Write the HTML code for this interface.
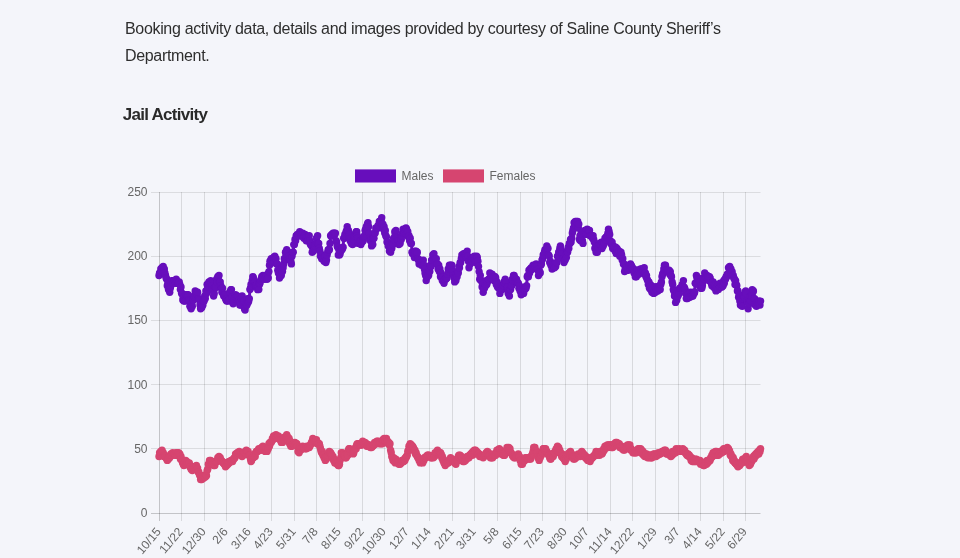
<!DOCTYPE html>
<html lang="en"><head><meta charset="utf-8"><title>Jail Activity</title>
<style>
html,body{margin:0;padding:0}
body{width:960px;height:558px;overflow:hidden;background:#f4f5fa;position:relative;font-family:"Liberation Sans",Arial,sans-serif;color:#212529}
p.lead{position:absolute;left:125px;top:15.2px;width:640px;margin:0;font-size:16px;line-height:27px;color:#2e2e2e;letter-spacing:-0.33px}
h2{position:absolute;left:122.7px;top:103px;margin:0;font-size:17px;line-height:24px;font-weight:700;color:#2a2a2a;letter-spacing:-0.72px}
</style></head><body>
<p class="lead">Booking activity data, details and images provided by courtesy of Saline County Sheriff’s Department.</p>
<h2>Jail Activity</h2>
<svg width="960" height="558" viewBox="0 0 960 558" style="position:absolute;left:0;top:0" font-family="Liberation Sans, Arial, sans-serif" font-size="12" fill="#666666">
<line x1="159.5" x2="159.5" y1="192" y2="521" stroke="rgba(0,0,0,0.2)" stroke-width="1"/>
<text transform="translate(161.5,532.0) rotate(-50)" text-anchor="end">10/15</text>
<line x1="181.5" x2="181.5" y1="192" y2="521" stroke="rgba(0,0,0,0.115)" stroke-width="1"/>
<text transform="translate(183.5,532.0) rotate(-50)" text-anchor="end">11/22</text>
<line x1="204.5" x2="204.5" y1="192" y2="521" stroke="rgba(0,0,0,0.115)" stroke-width="1"/>
<text transform="translate(206.5,532.0) rotate(-50)" text-anchor="end">12/30</text>
<line x1="226.5" x2="226.5" y1="192" y2="521" stroke="rgba(0,0,0,0.115)" stroke-width="1"/>
<text transform="translate(228.5,532.0) rotate(-50)" text-anchor="end">2/6</text>
<line x1="249.5" x2="249.5" y1="192" y2="521" stroke="rgba(0,0,0,0.115)" stroke-width="1"/>
<text transform="translate(251.5,532.0) rotate(-50)" text-anchor="end">3/16</text>
<line x1="271.5" x2="271.5" y1="192" y2="521" stroke="rgba(0,0,0,0.115)" stroke-width="1"/>
<text transform="translate(273.5,532.0) rotate(-50)" text-anchor="end">4/23</text>
<line x1="294.5" x2="294.5" y1="192" y2="521" stroke="rgba(0,0,0,0.115)" stroke-width="1"/>
<text transform="translate(296.5,532.0) rotate(-50)" text-anchor="end">5/31</text>
<line x1="316.5" x2="316.5" y1="192" y2="521" stroke="rgba(0,0,0,0.115)" stroke-width="1"/>
<text transform="translate(318.5,532.0) rotate(-50)" text-anchor="end">7/8</text>
<line x1="339.5" x2="339.5" y1="192" y2="521" stroke="rgba(0,0,0,0.115)" stroke-width="1"/>
<text transform="translate(341.5,532.0) rotate(-50)" text-anchor="end">8/15</text>
<line x1="362.5" x2="362.5" y1="192" y2="521" stroke="rgba(0,0,0,0.115)" stroke-width="1"/>
<text transform="translate(364.5,532.0) rotate(-50)" text-anchor="end">9/22</text>
<line x1="384.5" x2="384.5" y1="192" y2="521" stroke="rgba(0,0,0,0.115)" stroke-width="1"/>
<text transform="translate(386.5,532.0) rotate(-50)" text-anchor="end">10/30</text>
<line x1="407.5" x2="407.5" y1="192" y2="521" stroke="rgba(0,0,0,0.115)" stroke-width="1"/>
<text transform="translate(409.5,532.0) rotate(-50)" text-anchor="end">12/7</text>
<line x1="429.5" x2="429.5" y1="192" y2="521" stroke="rgba(0,0,0,0.115)" stroke-width="1"/>
<text transform="translate(431.5,532.0) rotate(-50)" text-anchor="end">1/14</text>
<line x1="452.5" x2="452.5" y1="192" y2="521" stroke="rgba(0,0,0,0.115)" stroke-width="1"/>
<text transform="translate(454.5,532.0) rotate(-50)" text-anchor="end">2/21</text>
<line x1="474.5" x2="474.5" y1="192" y2="521" stroke="rgba(0,0,0,0.115)" stroke-width="1"/>
<text transform="translate(476.5,532.0) rotate(-50)" text-anchor="end">3/31</text>
<line x1="497.5" x2="497.5" y1="192" y2="521" stroke="rgba(0,0,0,0.115)" stroke-width="1"/>
<text transform="translate(499.5,532.0) rotate(-50)" text-anchor="end">5/8</text>
<line x1="520.5" x2="520.5" y1="192" y2="521" stroke="rgba(0,0,0,0.115)" stroke-width="1"/>
<text transform="translate(522.5,532.0) rotate(-50)" text-anchor="end">6/15</text>
<line x1="542.5" x2="542.5" y1="192" y2="521" stroke="rgba(0,0,0,0.115)" stroke-width="1"/>
<text transform="translate(544.5,532.0) rotate(-50)" text-anchor="end">7/23</text>
<line x1="565.5" x2="565.5" y1="192" y2="521" stroke="rgba(0,0,0,0.115)" stroke-width="1"/>
<text transform="translate(567.5,532.0) rotate(-50)" text-anchor="end">8/30</text>
<line x1="587.5" x2="587.5" y1="192" y2="521" stroke="rgba(0,0,0,0.115)" stroke-width="1"/>
<text transform="translate(589.5,532.0) rotate(-50)" text-anchor="end">10/7</text>
<line x1="610.5" x2="610.5" y1="192" y2="521" stroke="rgba(0,0,0,0.115)" stroke-width="1"/>
<text transform="translate(612.5,532.0) rotate(-50)" text-anchor="end">11/14</text>
<line x1="632.5" x2="632.5" y1="192" y2="521" stroke="rgba(0,0,0,0.115)" stroke-width="1"/>
<text transform="translate(634.5,532.0) rotate(-50)" text-anchor="end">12/22</text>
<line x1="655.5" x2="655.5" y1="192" y2="521" stroke="rgba(0,0,0,0.115)" stroke-width="1"/>
<text transform="translate(657.5,532.0) rotate(-50)" text-anchor="end">1/29</text>
<line x1="678.5" x2="678.5" y1="192" y2="521" stroke="rgba(0,0,0,0.115)" stroke-width="1"/>
<text transform="translate(680.5,532.0) rotate(-50)" text-anchor="end">3/7</text>
<line x1="700.5" x2="700.5" y1="192" y2="521" stroke="rgba(0,0,0,0.115)" stroke-width="1"/>
<text transform="translate(702.5,532.0) rotate(-50)" text-anchor="end">4/14</text>
<line x1="723.5" x2="723.5" y1="192" y2="521" stroke="rgba(0,0,0,0.115)" stroke-width="1"/>
<text transform="translate(725.5,532.0) rotate(-50)" text-anchor="end">5/22</text>
<line x1="745.5" x2="745.5" y1="192" y2="521" stroke="rgba(0,0,0,0.115)" stroke-width="1"/>
<text transform="translate(747.5,532.0) rotate(-50)" text-anchor="end">6/29</text>
<line x1="151" x2="760.5" y1="513.5" y2="513.5" stroke="rgba(0,0,0,0.2)" stroke-width="1"/>
<text x="147.5" y="517.0" text-anchor="end">0</text>
<line x1="151" x2="760.5" y1="448.5" y2="448.5" stroke="rgba(0,0,0,0.1)" stroke-width="1"/>
<text x="147.5" y="452.8" text-anchor="end">50</text>
<line x1="151" x2="760.5" y1="384.5" y2="384.5" stroke="rgba(0,0,0,0.1)" stroke-width="1"/>
<text x="147.5" y="388.6" text-anchor="end">100</text>
<line x1="151" x2="760.5" y1="320.5" y2="320.5" stroke="rgba(0,0,0,0.1)" stroke-width="1"/>
<text x="147.5" y="324.4" text-anchor="end">150</text>
<line x1="151" x2="760.5" y1="256.5" y2="256.5" stroke="rgba(0,0,0,0.1)" stroke-width="1"/>
<text x="147.5" y="260.2" text-anchor="end">200</text>
<line x1="151" x2="760.5" y1="192.5" y2="192.5" stroke="rgba(0,0,0,0.1)" stroke-width="1"/>
<text x="147.5" y="196.0" text-anchor="end">250</text>
<rect x="355" y="169.4" width="41" height="13.1" fill="#670ebc"/>
<text x="401.5" y="180">Males</text>
<rect x="443" y="169.4" width="41" height="13.1" fill="#d64570"/>
<text x="489.5" y="180">Females</text>
<path d="M159.0 275.5L159.6 272.9L160.2 272.9L160.8 269.0L161.4 271.6L162.0 267.8L162.6 270.3L163.2 266.5L163.8 271.6L164.3 269.0L164.9 272.9L165.5 275.5L166.1 278.0L166.7 279.3L167.3 285.7L167.9 283.2L168.5 289.6L169.1 289.6L169.7 292.2L170.3 288.3L170.9 285.7L171.5 281.9L172.1 280.6L172.7 280.6L173.3 283.2L173.8 280.6L174.4 280.6L175.0 280.6L175.6 283.2L176.2 279.3L176.8 281.9L177.4 281.9L178.0 283.2L178.6 283.2L179.2 281.9L179.8 284.4L180.4 289.6L181.0 287.0L181.6 293.4L182.2 293.4L182.8 299.9L183.3 297.3L183.9 301.1L184.5 299.9L185.1 301.1L185.7 296.0L186.3 294.7L186.9 294.7L187.5 296.0L188.1 294.7L188.7 299.9L189.3 301.1L189.9 306.3L190.5 306.3L191.1 308.8L191.7 303.7L192.3 306.3L192.8 298.6L193.4 299.9L194.0 296.0L194.6 297.3L195.2 290.9L195.8 296.0L196.4 292.2L197.0 294.7L197.6 292.2L198.2 298.6L198.8 298.6L199.4 299.9L200.0 305.0L200.6 308.8L201.2 307.6L201.8 307.6L202.4 303.7L202.9 305.0L203.5 301.1L204.1 301.1L204.7 296.0L205.3 298.6L205.9 290.9L206.5 293.4L207.1 284.4L207.7 287.0L208.3 284.4L208.9 281.9L209.5 283.2L210.1 281.9L210.7 280.6L211.3 283.2L211.9 285.7L212.4 289.6L213.0 290.9L213.6 296.0L214.2 293.4L214.8 288.3L215.4 287.0L216.0 287.0L216.6 279.3L217.2 281.9L217.8 276.7L218.4 276.7L219.0 275.5L219.6 281.9L220.2 281.9L220.8 285.7L221.4 288.3L221.9 292.2L222.5 288.3L223.1 293.4L223.7 296.0L224.3 294.7L224.9 294.7L225.5 298.6L226.1 299.9L226.7 301.1L227.3 298.6L227.9 301.1L228.5 299.9L229.1 299.9L229.7 292.2L230.3 292.2L230.9 289.6L231.4 289.6L232.0 297.3L232.6 302.4L233.2 303.7L233.8 302.4L234.4 298.6L235.0 298.6L235.6 294.7L236.2 297.3L236.8 297.3L237.4 296.0L238.0 297.3L238.6 301.1L239.2 299.9L239.8 305.0L240.4 302.4L241.0 305.0L241.5 298.6L242.1 296.0L242.7 299.9L243.3 302.4L243.9 301.1L244.5 308.8L245.1 310.1L245.7 306.3L246.3 303.7L246.9 305.0L247.5 298.6L248.1 302.4L248.7 301.1L249.3 298.6L249.9 289.6L250.5 288.3L251.0 284.4L251.6 285.7L252.2 280.6L252.8 276.7L253.4 278.0L254.0 284.4L254.6 281.9L255.2 285.7L255.8 285.7L256.4 285.7L257.0 284.4L257.6 289.6L258.2 287.0L258.8 289.6L259.4 284.4L260.0 283.2L260.5 280.6L261.1 279.3L261.7 276.7L262.3 278.0L262.9 275.5L263.5 276.7L264.1 276.7L264.7 279.3L265.3 275.5L265.9 276.7L266.5 275.5L267.1 279.3L267.7 274.2L268.3 278.0L268.9 271.6L269.5 265.2L270.0 261.3L270.6 261.3L271.2 258.8L271.8 262.6L272.4 260.1L273.0 262.6L273.6 257.5L274.2 261.3L274.8 256.2L275.4 258.8L276.0 258.8L276.6 263.9L277.2 263.9L277.8 270.3L278.4 272.9L279.0 272.9L279.5 278.0L280.1 272.9L280.7 270.3L281.3 275.5L281.9 267.8L282.5 271.6L283.1 267.8L283.7 263.9L284.3 258.8L284.9 258.8L285.5 252.3L286.1 254.9L286.7 249.8L287.3 256.2L287.9 252.3L288.5 256.2L289.1 256.2L289.6 260.1L290.2 258.8L290.8 261.3L291.4 263.9L292.0 256.2L292.6 252.3L293.2 252.3L293.8 244.6L294.4 244.6L295.0 239.5L295.6 240.8L296.2 235.7L296.8 235.7L297.4 234.4L298.0 234.4L298.6 235.7L299.1 235.7L299.7 231.8L300.3 234.4L300.9 234.4L301.5 235.7L302.1 234.4L302.7 233.1L303.3 236.9L303.9 238.2L304.5 235.7L305.1 234.4L305.7 235.7L306.3 240.8L306.9 236.9L307.5 240.8L308.1 236.9L308.6 239.5L309.2 235.7L309.8 240.8L310.4 244.6L311.0 243.4L311.6 245.9L312.2 252.3L312.8 251.1L313.4 251.1L314.0 245.9L314.6 248.5L315.2 245.9L315.8 243.4L316.4 238.2L317.0 242.1L317.6 235.7L318.1 243.4L318.7 243.4L319.3 248.5L319.9 251.1L320.5 256.2L321.1 254.9L321.7 258.8L322.3 254.9L322.9 257.5L323.5 258.8L324.1 261.3L324.7 256.2L325.3 256.2L325.9 262.6L326.5 260.1L327.1 254.9L327.7 252.3L328.2 249.8L328.8 249.8L329.4 249.8L330.0 243.4L330.6 235.7L331.2 235.7L331.8 234.4L332.4 235.7L333.0 233.1L333.6 234.4L334.2 233.1L334.8 234.4L335.4 233.1L336.0 240.8L336.6 242.1L337.2 245.9L337.7 247.2L338.3 254.9L338.9 249.8L339.5 254.9L340.1 253.6L340.7 251.1L341.3 248.5L341.9 249.8L342.5 248.5L343.1 247.2L343.7 238.2L344.3 238.2L344.9 234.4L345.5 235.7L346.1 231.8L346.7 230.5L347.2 226.7L347.8 230.5L348.4 230.5L349.0 236.9L349.6 234.4L350.2 240.8L350.8 238.2L351.4 243.4L352.0 242.1L352.6 244.6L353.2 243.4L353.8 239.5L354.4 236.9L355.0 235.7L355.6 233.1L356.2 231.8L356.7 231.8L357.3 235.7L357.9 238.2L358.5 243.4L359.1 243.4L359.7 242.1L360.3 240.8L360.9 244.6L361.5 240.8L362.1 242.1L362.7 239.5L363.3 240.8L363.9 236.9L364.5 235.7L365.1 230.5L365.7 229.2L366.3 226.7L366.8 228.0L367.4 224.1L368.0 222.8L368.6 226.7L369.2 233.1L369.8 238.2L370.4 240.8L371.0 239.5L371.6 245.9L372.2 242.1L372.8 244.6L373.4 238.2L374.0 238.2L374.6 233.1L375.2 233.1L375.8 228.0L376.3 229.2L376.9 228.0L377.5 228.0L378.1 225.4L378.7 225.4L379.3 221.5L379.9 221.5L380.5 222.8L381.1 220.2L381.7 217.7L382.3 224.1L382.9 224.1L383.5 229.2L384.1 226.7L384.7 233.1L385.3 230.5L385.8 235.7L386.4 236.9L387.0 242.1L387.6 242.1L388.2 245.9L388.8 244.6L389.4 251.1L390.0 251.1L390.6 252.3L391.2 245.9L391.8 248.5L392.4 243.4L393.0 244.6L393.6 238.2L394.2 239.5L394.8 231.8L395.3 234.4L395.9 230.5L396.5 236.9L397.1 238.2L397.7 239.5L398.3 240.8L398.9 244.6L399.5 240.8L400.1 243.4L400.7 236.9L401.3 239.5L401.9 235.7L402.5 233.1L403.1 229.2L403.7 233.1L404.3 231.8L404.9 229.2L405.4 230.5L406.0 228.0L406.6 229.2L407.2 234.4L407.8 231.8L408.4 236.9L409.0 235.7L409.6 240.8L410.2 238.2L410.8 243.4L411.4 243.4L412.0 252.3L412.6 253.6L413.2 253.6L413.8 252.3L414.4 257.5L414.9 251.1L415.5 253.6L416.1 251.1L416.7 253.6L417.3 252.3L417.9 258.8L418.5 260.1L419.1 263.9L419.7 262.6L420.3 260.1L420.9 262.6L421.5 265.2L422.1 261.3L422.7 262.6L423.3 260.1L423.9 265.2L424.4 269.0L425.0 272.9L425.6 275.5L426.2 280.6L426.8 276.7L427.4 276.7L428.0 272.9L428.6 275.5L429.2 270.3L429.8 271.6L430.4 265.2L431.0 266.5L431.6 260.1L432.2 260.1L432.8 254.9L433.4 254.9L433.9 253.6L434.5 260.1L435.1 258.8L435.7 262.6L436.3 258.8L436.9 263.9L437.5 263.9L438.1 269.0L438.7 265.2L439.3 271.6L439.9 269.0L440.5 276.7L441.1 272.9L441.7 276.7L442.3 280.6L442.9 279.3L443.5 276.7L444.0 283.2L444.6 279.3L445.2 279.3L445.8 279.3L446.4 278.0L447.0 278.0L447.6 274.2L448.2 269.0L448.8 271.6L449.4 265.2L450.0 269.0L450.6 265.2L451.2 266.5L451.8 265.2L452.4 270.3L453.0 271.6L453.5 275.5L454.1 278.0L454.7 281.9L455.3 278.0L455.9 280.6L456.5 274.2L457.1 276.7L457.7 271.6L458.3 272.9L458.9 266.5L459.5 267.8L460.1 262.6L460.7 262.6L461.3 258.8L461.9 254.9L462.5 256.2L463.0 257.5L463.6 253.6L464.2 257.5L464.8 253.6L465.4 256.2L466.0 254.9L466.6 257.5L467.2 251.1L467.8 256.2L468.4 261.3L469.0 267.8L469.6 261.3L470.2 263.9L470.8 257.5L471.4 260.1L472.0 258.8L472.5 261.3L473.1 257.5L473.7 258.8L474.3 256.2L474.9 260.1L475.5 262.6L476.1 260.1L476.7 256.2L477.3 257.5L477.9 261.3L478.5 266.5L479.1 271.6L479.7 279.3L480.3 275.5L480.9 280.6L481.5 280.6L482.1 287.0L482.6 284.4L483.2 292.2L483.8 288.3L484.4 288.3L485.0 284.4L485.6 285.7L486.2 280.6L486.8 284.4L487.4 281.9L488.0 280.6L488.6 279.3L489.2 279.3L489.8 272.9L490.4 278.0L491.0 275.5L491.6 278.0L492.1 274.2L492.7 279.3L493.3 276.7L493.9 280.6L494.5 276.7L495.1 276.7L495.7 278.0L496.3 284.4L496.9 281.9L497.5 287.0L498.1 284.4L498.7 288.3L499.3 287.0L499.9 293.4L500.5 288.3L501.1 287.0L501.6 288.3L502.2 289.6L502.8 288.3L503.4 285.7L504.0 281.9L504.6 283.2L505.2 279.3L505.8 283.2L506.4 281.9L507.0 287.0L507.6 287.0L508.2 293.4L508.8 290.9L509.4 296.0L510.0 289.6L510.6 289.6L511.1 285.7L511.7 285.7L512.3 279.3L512.9 280.6L513.5 275.5L514.1 275.5L514.7 278.0L515.3 280.6L515.9 280.6L516.5 279.3L517.1 281.9L517.7 283.2L518.3 283.2L518.9 288.3L519.5 285.7L520.1 290.9L520.6 289.6L521.2 294.7L521.8 293.4L522.4 292.2L523.0 290.9L523.6 293.4L524.2 289.6L524.8 289.6L525.4 287.0L526.0 288.3L526.6 285.7L527.2 276.7L527.8 275.5L528.4 276.7L529.0 270.3L529.6 272.9L530.2 269.0L530.7 270.3L531.3 267.8L531.9 269.0L532.5 269.0L533.1 265.2L533.7 266.5L534.3 267.8L534.9 266.5L535.5 266.5L536.1 263.9L536.7 266.5L537.3 269.0L537.9 270.3L538.5 275.5L539.1 271.6L539.7 271.6L540.2 272.9L540.8 265.2L541.4 263.9L542.0 260.1L542.6 258.8L543.2 254.9L543.8 254.9L544.4 252.3L545.0 249.8L545.6 251.1L546.2 249.8L546.8 245.9L547.4 248.5L548.0 248.5L548.6 254.9L549.2 256.2L549.7 262.6L550.3 261.3L550.9 265.2L551.5 263.9L552.1 269.0L552.7 263.9L553.3 265.2L553.9 266.5L554.5 267.8L555.1 263.9L555.7 266.5L556.3 262.6L556.9 262.6L557.5 256.2L558.1 256.2L558.7 252.3L559.2 252.3L559.8 248.5L560.4 245.9L561.0 249.8L561.6 254.9L562.2 253.6L562.8 258.8L563.4 258.8L564.0 262.6L564.6 260.1L565.2 260.1L565.8 254.9L566.4 257.5L567.0 251.1L567.6 252.3L568.2 247.2L568.8 248.5L569.3 243.4L569.9 243.4L570.5 239.5L571.1 242.1L571.7 238.2L572.3 233.1L572.9 230.5L573.5 228.0L574.1 222.8L574.7 224.1L575.3 221.5L575.9 225.4L576.5 221.5L577.1 222.8L577.7 221.5L578.3 228.0L578.8 224.1L579.4 239.5L580.0 235.7L580.6 240.8L581.2 239.5L581.8 240.8L582.4 240.8L583.0 243.4L583.6 231.8L584.2 233.1L584.8 230.5L585.4 233.1L586.0 231.8L586.6 234.4L587.2 229.2L587.8 233.1L588.3 230.5L588.9 230.5L589.5 230.5L590.1 235.7L590.7 235.7L591.3 235.7L591.9 235.7L592.5 238.2L593.1 235.7L593.7 239.5L594.3 242.1L594.9 248.5L595.5 247.2L596.1 252.3L596.7 248.5L597.3 252.3L597.8 245.9L598.4 247.2L599.0 244.6L599.6 243.4L600.2 244.6L600.8 244.6L601.4 242.1L602.0 248.5L602.6 243.4L603.2 245.9L603.8 242.1L604.4 243.4L605.0 238.2L605.6 239.5L606.2 236.9L606.8 236.9L607.4 235.7L607.9 233.1L608.5 229.2L609.1 231.8L609.7 234.4L610.3 240.8L610.9 242.1L611.5 244.6L612.1 242.1L612.7 248.5L613.3 245.9L613.9 247.2L614.5 247.2L615.1 251.1L615.7 247.2L616.3 253.6L616.9 248.5L617.4 249.8L618.0 252.3L618.6 253.6L619.2 251.1L619.8 256.2L620.4 254.9L621.0 252.3L621.6 254.9L622.2 260.1L622.8 258.8L623.4 263.9L624.0 263.9L624.6 271.6L625.2 269.0L625.8 267.8L626.4 269.0L626.9 270.3L627.5 266.5L628.1 270.3L628.7 266.5L629.3 265.2L629.9 265.2L630.5 263.9L631.1 265.2L631.7 266.5L632.3 267.8L632.9 270.3L633.5 269.0L634.1 272.9L634.7 270.3L635.3 276.7L635.9 271.6L636.4 276.7L637.0 270.3L637.6 274.2L638.2 270.3L638.8 274.2L639.4 270.3L640.0 272.9L640.6 269.0L641.2 271.6L641.8 269.0L642.4 271.6L643.0 270.3L643.6 270.3L644.2 267.8L644.8 274.2L645.4 272.9L646.0 276.7L646.5 275.5L647.1 279.3L647.7 280.6L648.3 284.4L648.9 281.9L649.5 288.3L650.1 284.4L650.7 289.6L651.3 285.7L651.9 292.2L652.5 289.6L653.1 292.2L653.7 293.4L654.3 290.9L654.9 287.0L655.5 292.2L656.0 287.0L656.6 290.9L657.2 287.0L657.8 290.9L658.4 287.0L659.0 288.3L659.6 285.7L660.2 289.6L660.8 284.4L661.4 281.9L662.0 276.7L662.6 274.2L663.2 272.9L663.8 269.0L664.4 265.2L665.0 270.3L665.5 265.2L666.1 270.3L666.7 270.3L667.3 271.6L667.9 270.3L668.5 271.6L669.1 270.3L669.7 274.2L670.3 271.6L670.9 275.5L671.5 276.7L672.1 281.9L672.7 284.4L673.3 289.6L673.9 290.9L674.5 296.0L675.0 296.0L675.6 302.4L676.2 297.3L676.8 299.9L677.4 293.4L678.0 296.0L678.6 289.6L679.2 293.4L679.8 288.3L680.4 288.3L681.0 288.3L681.6 287.0L682.2 284.4L682.8 287.0L683.4 280.6L684.0 287.0L684.6 288.3L685.1 289.6L685.7 293.4L686.3 298.6L686.9 293.4L687.5 298.6L688.1 294.7L688.7 297.3L689.3 293.4L689.9 297.3L690.5 292.2L691.1 296.0L691.7 293.4L692.3 296.0L692.9 296.0L693.5 292.2L694.1 293.4L694.6 292.2L695.2 283.2L695.8 283.2L696.4 275.5L697.0 278.0L697.6 278.0L698.2 278.0L698.8 279.3L699.4 285.7L700.0 281.9L700.6 288.3L701.2 285.7L701.8 288.3L702.4 285.7L703.0 281.9L703.6 278.0L704.1 279.3L704.7 272.9L705.3 276.7L705.9 275.5L706.5 276.7L707.1 275.5L707.7 278.0L708.3 276.7L708.9 280.6L709.5 276.7L710.1 278.0L710.7 280.6L711.3 283.2L711.9 285.7L712.5 283.2L713.1 281.9L713.6 287.0L714.2 284.4L714.8 288.3L715.4 285.7L716.0 290.9L716.6 287.0L717.2 288.3L717.8 284.4L718.4 289.6L719.0 284.4L719.6 287.0L720.2 283.2L720.8 287.0L721.4 284.4L722.0 287.0L722.6 284.4L723.1 285.7L723.7 280.6L724.3 283.2L724.9 279.3L725.5 279.3L726.1 276.7L726.7 276.7L727.3 274.2L727.9 274.2L728.5 267.8L729.1 272.9L729.7 266.5L730.3 270.3L730.9 269.0L731.5 274.2L732.1 271.6L732.7 275.5L733.2 275.5L733.8 278.0L734.4 279.3L735.0 284.4L735.6 280.6L736.2 284.4L736.8 285.7L737.4 290.9L738.0 290.9L738.6 297.3L739.2 294.7L739.8 301.1L740.4 305.0L741.0 305.0L741.6 303.7L742.2 306.3L742.7 298.6L743.3 298.6L743.9 296.0L744.5 297.3L745.1 292.2L745.7 290.9L746.3 293.4L746.9 301.1L747.5 302.4L748.1 308.8L748.7 301.1L749.3 303.7L749.9 297.3L750.5 301.1L751.1 296.0L751.7 296.0L752.2 289.6L752.8 292.2L753.4 290.9L754.0 298.6L754.6 298.6L755.2 305.0L755.8 303.7L756.4 306.3L757.0 302.4L757.6 302.4L758.2 301.1L758.8 302.4L759.4 301.1L760.0 305.0L760.6 301.1" fill="none" stroke="#670ebc" stroke-width="3" stroke-linejoin="round" stroke-linecap="round"/>
<g fill="#670ebc"><circle cx="159.0" cy="275.5" r="3.7"/><circle cx="159.6" cy="272.9" r="3.7"/><circle cx="160.2" cy="272.9" r="3.7"/><circle cx="160.8" cy="269.0" r="3.7"/><circle cx="161.4" cy="271.6" r="3.7"/><circle cx="162.0" cy="267.8" r="3.7"/><circle cx="162.6" cy="270.3" r="3.7"/><circle cx="163.2" cy="266.5" r="3.7"/><circle cx="163.8" cy="271.6" r="3.7"/><circle cx="164.3" cy="269.0" r="3.7"/><circle cx="164.9" cy="272.9" r="3.7"/><circle cx="165.5" cy="275.5" r="3.7"/><circle cx="166.1" cy="278.0" r="3.7"/><circle cx="166.7" cy="279.3" r="3.7"/><circle cx="167.3" cy="285.7" r="3.7"/><circle cx="167.9" cy="283.2" r="3.7"/><circle cx="168.5" cy="289.6" r="3.7"/><circle cx="169.1" cy="289.6" r="3.7"/><circle cx="169.7" cy="292.2" r="3.7"/><circle cx="170.3" cy="288.3" r="3.7"/><circle cx="170.9" cy="285.7" r="3.7"/><circle cx="171.5" cy="281.9" r="3.7"/><circle cx="172.1" cy="280.6" r="3.7"/><circle cx="172.7" cy="280.6" r="3.7"/><circle cx="173.3" cy="283.2" r="3.7"/><circle cx="173.8" cy="280.6" r="3.7"/><circle cx="174.4" cy="280.6" r="3.7"/><circle cx="175.0" cy="280.6" r="3.7"/><circle cx="175.6" cy="283.2" r="3.7"/><circle cx="176.2" cy="279.3" r="3.7"/><circle cx="176.8" cy="281.9" r="3.7"/><circle cx="177.4" cy="281.9" r="3.7"/><circle cx="178.0" cy="283.2" r="3.7"/><circle cx="178.6" cy="283.2" r="3.7"/><circle cx="179.2" cy="281.9" r="3.7"/><circle cx="179.8" cy="284.4" r="3.7"/><circle cx="180.4" cy="289.6" r="3.7"/><circle cx="181.0" cy="287.0" r="3.7"/><circle cx="181.6" cy="293.4" r="3.7"/><circle cx="182.2" cy="293.4" r="3.7"/><circle cx="182.8" cy="299.9" r="3.7"/><circle cx="183.3" cy="297.3" r="3.7"/><circle cx="183.9" cy="301.1" r="3.7"/><circle cx="184.5" cy="299.9" r="3.7"/><circle cx="185.1" cy="301.1" r="3.7"/><circle cx="185.7" cy="296.0" r="3.7"/><circle cx="186.3" cy="294.7" r="3.7"/><circle cx="186.9" cy="294.7" r="3.7"/><circle cx="187.5" cy="296.0" r="3.7"/><circle cx="188.1" cy="294.7" r="3.7"/><circle cx="188.7" cy="299.9" r="3.7"/><circle cx="189.3" cy="301.1" r="3.7"/><circle cx="189.9" cy="306.3" r="3.7"/><circle cx="190.5" cy="306.3" r="3.7"/><circle cx="191.1" cy="308.8" r="3.7"/><circle cx="191.7" cy="303.7" r="3.7"/><circle cx="192.3" cy="306.3" r="3.7"/><circle cx="192.8" cy="298.6" r="3.7"/><circle cx="193.4" cy="299.9" r="3.7"/><circle cx="194.0" cy="296.0" r="3.7"/><circle cx="194.6" cy="297.3" r="3.7"/><circle cx="195.2" cy="290.9" r="3.7"/><circle cx="195.8" cy="296.0" r="3.7"/><circle cx="196.4" cy="292.2" r="3.7"/><circle cx="197.0" cy="294.7" r="3.7"/><circle cx="197.6" cy="292.2" r="3.7"/><circle cx="198.2" cy="298.6" r="3.7"/><circle cx="198.8" cy="298.6" r="3.7"/><circle cx="199.4" cy="299.9" r="3.7"/><circle cx="200.0" cy="305.0" r="3.7"/><circle cx="200.6" cy="308.8" r="3.7"/><circle cx="201.2" cy="307.6" r="3.7"/><circle cx="201.8" cy="307.6" r="3.7"/><circle cx="202.4" cy="303.7" r="3.7"/><circle cx="202.9" cy="305.0" r="3.7"/><circle cx="203.5" cy="301.1" r="3.7"/><circle cx="204.1" cy="301.1" r="3.7"/><circle cx="204.7" cy="296.0" r="3.7"/><circle cx="205.3" cy="298.6" r="3.7"/><circle cx="205.9" cy="290.9" r="3.7"/><circle cx="206.5" cy="293.4" r="3.7"/><circle cx="207.1" cy="284.4" r="3.7"/><circle cx="207.7" cy="287.0" r="3.7"/><circle cx="208.3" cy="284.4" r="3.7"/><circle cx="208.9" cy="281.9" r="3.7"/><circle cx="209.5" cy="283.2" r="3.7"/><circle cx="210.1" cy="281.9" r="3.7"/><circle cx="210.7" cy="280.6" r="3.7"/><circle cx="211.3" cy="283.2" r="3.7"/><circle cx="211.9" cy="285.7" r="3.7"/><circle cx="212.4" cy="289.6" r="3.7"/><circle cx="213.0" cy="290.9" r="3.7"/><circle cx="213.6" cy="296.0" r="3.7"/><circle cx="214.2" cy="293.4" r="3.7"/><circle cx="214.8" cy="288.3" r="3.7"/><circle cx="215.4" cy="287.0" r="3.7"/><circle cx="216.0" cy="287.0" r="3.7"/><circle cx="216.6" cy="279.3" r="3.7"/><circle cx="217.2" cy="281.9" r="3.7"/><circle cx="217.8" cy="276.7" r="3.7"/><circle cx="218.4" cy="276.7" r="3.7"/><circle cx="219.0" cy="275.5" r="3.7"/><circle cx="219.6" cy="281.9" r="3.7"/><circle cx="220.2" cy="281.9" r="3.7"/><circle cx="220.8" cy="285.7" r="3.7"/><circle cx="221.4" cy="288.3" r="3.7"/><circle cx="221.9" cy="292.2" r="3.7"/><circle cx="222.5" cy="288.3" r="3.7"/><circle cx="223.1" cy="293.4" r="3.7"/><circle cx="223.7" cy="296.0" r="3.7"/><circle cx="224.3" cy="294.7" r="3.7"/><circle cx="224.9" cy="294.7" r="3.7"/><circle cx="225.5" cy="298.6" r="3.7"/><circle cx="226.1" cy="299.9" r="3.7"/><circle cx="226.7" cy="301.1" r="3.7"/><circle cx="227.3" cy="298.6" r="3.7"/><circle cx="227.9" cy="301.1" r="3.7"/><circle cx="228.5" cy="299.9" r="3.7"/><circle cx="229.1" cy="299.9" r="3.7"/><circle cx="229.7" cy="292.2" r="3.7"/><circle cx="230.3" cy="292.2" r="3.7"/><circle cx="230.9" cy="289.6" r="3.7"/><circle cx="231.4" cy="289.6" r="3.7"/><circle cx="232.0" cy="297.3" r="3.7"/><circle cx="232.6" cy="302.4" r="3.7"/><circle cx="233.2" cy="303.7" r="3.7"/><circle cx="233.8" cy="302.4" r="3.7"/><circle cx="234.4" cy="298.6" r="3.7"/><circle cx="235.0" cy="298.6" r="3.7"/><circle cx="235.6" cy="294.7" r="3.7"/><circle cx="236.2" cy="297.3" r="3.7"/><circle cx="236.8" cy="297.3" r="3.7"/><circle cx="237.4" cy="296.0" r="3.7"/><circle cx="238.0" cy="297.3" r="3.7"/><circle cx="238.6" cy="301.1" r="3.7"/><circle cx="239.2" cy="299.9" r="3.7"/><circle cx="239.8" cy="305.0" r="3.7"/><circle cx="240.4" cy="302.4" r="3.7"/><circle cx="241.0" cy="305.0" r="3.7"/><circle cx="241.5" cy="298.6" r="3.7"/><circle cx="242.1" cy="296.0" r="3.7"/><circle cx="242.7" cy="299.9" r="3.7"/><circle cx="243.3" cy="302.4" r="3.7"/><circle cx="243.9" cy="301.1" r="3.7"/><circle cx="244.5" cy="308.8" r="3.7"/><circle cx="245.1" cy="310.1" r="3.7"/><circle cx="245.7" cy="306.3" r="3.7"/><circle cx="246.3" cy="303.7" r="3.7"/><circle cx="246.9" cy="305.0" r="3.7"/><circle cx="247.5" cy="298.6" r="3.7"/><circle cx="248.1" cy="302.4" r="3.7"/><circle cx="248.7" cy="301.1" r="3.7"/><circle cx="249.3" cy="298.6" r="3.7"/><circle cx="249.9" cy="289.6" r="3.7"/><circle cx="250.5" cy="288.3" r="3.7"/><circle cx="251.0" cy="284.4" r="3.7"/><circle cx="251.6" cy="285.7" r="3.7"/><circle cx="252.2" cy="280.6" r="3.7"/><circle cx="252.8" cy="276.7" r="3.7"/><circle cx="253.4" cy="278.0" r="3.7"/><circle cx="254.0" cy="284.4" r="3.7"/><circle cx="254.6" cy="281.9" r="3.7"/><circle cx="255.2" cy="285.7" r="3.7"/><circle cx="255.8" cy="285.7" r="3.7"/><circle cx="256.4" cy="285.7" r="3.7"/><circle cx="257.0" cy="284.4" r="3.7"/><circle cx="257.6" cy="289.6" r="3.7"/><circle cx="258.2" cy="287.0" r="3.7"/><circle cx="258.8" cy="289.6" r="3.7"/><circle cx="259.4" cy="284.4" r="3.7"/><circle cx="260.0" cy="283.2" r="3.7"/><circle cx="260.5" cy="280.6" r="3.7"/><circle cx="261.1" cy="279.3" r="3.7"/><circle cx="261.7" cy="276.7" r="3.7"/><circle cx="262.3" cy="278.0" r="3.7"/><circle cx="262.9" cy="275.5" r="3.7"/><circle cx="263.5" cy="276.7" r="3.7"/><circle cx="264.1" cy="276.7" r="3.7"/><circle cx="264.7" cy="279.3" r="3.7"/><circle cx="265.3" cy="275.5" r="3.7"/><circle cx="265.9" cy="276.7" r="3.7"/><circle cx="266.5" cy="275.5" r="3.7"/><circle cx="267.1" cy="279.3" r="3.7"/><circle cx="267.7" cy="274.2" r="3.7"/><circle cx="268.3" cy="278.0" r="3.7"/><circle cx="268.9" cy="271.6" r="3.7"/><circle cx="269.5" cy="265.2" r="3.7"/><circle cx="270.0" cy="261.3" r="3.7"/><circle cx="270.6" cy="261.3" r="3.7"/><circle cx="271.2" cy="258.8" r="3.7"/><circle cx="271.8" cy="262.6" r="3.7"/><circle cx="272.4" cy="260.1" r="3.7"/><circle cx="273.0" cy="262.6" r="3.7"/><circle cx="273.6" cy="257.5" r="3.7"/><circle cx="274.2" cy="261.3" r="3.7"/><circle cx="274.8" cy="256.2" r="3.7"/><circle cx="275.4" cy="258.8" r="3.7"/><circle cx="276.0" cy="258.8" r="3.7"/><circle cx="276.6" cy="263.9" r="3.7"/><circle cx="277.2" cy="263.9" r="3.7"/><circle cx="277.8" cy="270.3" r="3.7"/><circle cx="278.4" cy="272.9" r="3.7"/><circle cx="279.0" cy="272.9" r="3.7"/><circle cx="279.5" cy="278.0" r="3.7"/><circle cx="280.1" cy="272.9" r="3.7"/><circle cx="280.7" cy="270.3" r="3.7"/><circle cx="281.3" cy="275.5" r="3.7"/><circle cx="281.9" cy="267.8" r="3.7"/><circle cx="282.5" cy="271.6" r="3.7"/><circle cx="283.1" cy="267.8" r="3.7"/><circle cx="283.7" cy="263.9" r="3.7"/><circle cx="284.3" cy="258.8" r="3.7"/><circle cx="284.9" cy="258.8" r="3.7"/><circle cx="285.5" cy="252.3" r="3.7"/><circle cx="286.1" cy="254.9" r="3.7"/><circle cx="286.7" cy="249.8" r="3.7"/><circle cx="287.3" cy="256.2" r="3.7"/><circle cx="287.9" cy="252.3" r="3.7"/><circle cx="288.5" cy="256.2" r="3.7"/><circle cx="289.1" cy="256.2" r="3.7"/><circle cx="289.6" cy="260.1" r="3.7"/><circle cx="290.2" cy="258.8" r="3.7"/><circle cx="290.8" cy="261.3" r="3.7"/><circle cx="291.4" cy="263.9" r="3.7"/><circle cx="292.0" cy="256.2" r="3.7"/><circle cx="292.6" cy="252.3" r="3.7"/><circle cx="293.2" cy="252.3" r="3.7"/><circle cx="293.8" cy="244.6" r="3.7"/><circle cx="294.4" cy="244.6" r="3.7"/><circle cx="295.0" cy="239.5" r="3.7"/><circle cx="295.6" cy="240.8" r="3.7"/><circle cx="296.2" cy="235.7" r="3.7"/><circle cx="296.8" cy="235.7" r="3.7"/><circle cx="297.4" cy="234.4" r="3.7"/><circle cx="298.0" cy="234.4" r="3.7"/><circle cx="298.6" cy="235.7" r="3.7"/><circle cx="299.1" cy="235.7" r="3.7"/><circle cx="299.7" cy="231.8" r="3.7"/><circle cx="300.3" cy="234.4" r="3.7"/><circle cx="300.9" cy="234.4" r="3.7"/><circle cx="301.5" cy="235.7" r="3.7"/><circle cx="302.1" cy="234.4" r="3.7"/><circle cx="302.7" cy="233.1" r="3.7"/><circle cx="303.3" cy="236.9" r="3.7"/><circle cx="303.9" cy="238.2" r="3.7"/><circle cx="304.5" cy="235.7" r="3.7"/><circle cx="305.1" cy="234.4" r="3.7"/><circle cx="305.7" cy="235.7" r="3.7"/><circle cx="306.3" cy="240.8" r="3.7"/><circle cx="306.9" cy="236.9" r="3.7"/><circle cx="307.5" cy="240.8" r="3.7"/><circle cx="308.1" cy="236.9" r="3.7"/><circle cx="308.6" cy="239.5" r="3.7"/><circle cx="309.2" cy="235.7" r="3.7"/><circle cx="309.8" cy="240.8" r="3.7"/><circle cx="310.4" cy="244.6" r="3.7"/><circle cx="311.0" cy="243.4" r="3.7"/><circle cx="311.6" cy="245.9" r="3.7"/><circle cx="312.2" cy="252.3" r="3.7"/><circle cx="312.8" cy="251.1" r="3.7"/><circle cx="313.4" cy="251.1" r="3.7"/><circle cx="314.0" cy="245.9" r="3.7"/><circle cx="314.6" cy="248.5" r="3.7"/><circle cx="315.2" cy="245.9" r="3.7"/><circle cx="315.8" cy="243.4" r="3.7"/><circle cx="316.4" cy="238.2" r="3.7"/><circle cx="317.0" cy="242.1" r="3.7"/><circle cx="317.6" cy="235.7" r="3.7"/><circle cx="318.1" cy="243.4" r="3.7"/><circle cx="318.7" cy="243.4" r="3.7"/><circle cx="319.3" cy="248.5" r="3.7"/><circle cx="319.9" cy="251.1" r="3.7"/><circle cx="320.5" cy="256.2" r="3.7"/><circle cx="321.1" cy="254.9" r="3.7"/><circle cx="321.7" cy="258.8" r="3.7"/><circle cx="322.3" cy="254.9" r="3.7"/><circle cx="322.9" cy="257.5" r="3.7"/><circle cx="323.5" cy="258.8" r="3.7"/><circle cx="324.1" cy="261.3" r="3.7"/><circle cx="324.7" cy="256.2" r="3.7"/><circle cx="325.3" cy="256.2" r="3.7"/><circle cx="325.9" cy="262.6" r="3.7"/><circle cx="326.5" cy="260.1" r="3.7"/><circle cx="327.1" cy="254.9" r="3.7"/><circle cx="327.7" cy="252.3" r="3.7"/><circle cx="328.2" cy="249.8" r="3.7"/><circle cx="328.8" cy="249.8" r="3.7"/><circle cx="329.4" cy="249.8" r="3.7"/><circle cx="330.0" cy="243.4" r="3.7"/><circle cx="330.6" cy="235.7" r="3.7"/><circle cx="331.2" cy="235.7" r="3.7"/><circle cx="331.8" cy="234.4" r="3.7"/><circle cx="332.4" cy="235.7" r="3.7"/><circle cx="333.0" cy="233.1" r="3.7"/><circle cx="333.6" cy="234.4" r="3.7"/><circle cx="334.2" cy="233.1" r="3.7"/><circle cx="334.8" cy="234.4" r="3.7"/><circle cx="335.4" cy="233.1" r="3.7"/><circle cx="336.0" cy="240.8" r="3.7"/><circle cx="336.6" cy="242.1" r="3.7"/><circle cx="337.2" cy="245.9" r="3.7"/><circle cx="337.7" cy="247.2" r="3.7"/><circle cx="338.3" cy="254.9" r="3.7"/><circle cx="338.9" cy="249.8" r="3.7"/><circle cx="339.5" cy="254.9" r="3.7"/><circle cx="340.1" cy="253.6" r="3.7"/><circle cx="340.7" cy="251.1" r="3.7"/><circle cx="341.3" cy="248.5" r="3.7"/><circle cx="341.9" cy="249.8" r="3.7"/><circle cx="342.5" cy="248.5" r="3.7"/><circle cx="343.1" cy="247.2" r="3.7"/><circle cx="343.7" cy="238.2" r="3.7"/><circle cx="344.3" cy="238.2" r="3.7"/><circle cx="344.9" cy="234.4" r="3.7"/><circle cx="345.5" cy="235.7" r="3.7"/><circle cx="346.1" cy="231.8" r="3.7"/><circle cx="346.7" cy="230.5" r="3.7"/><circle cx="347.2" cy="226.7" r="3.7"/><circle cx="347.8" cy="230.5" r="3.7"/><circle cx="348.4" cy="230.5" r="3.7"/><circle cx="349.0" cy="236.9" r="3.7"/><circle cx="349.6" cy="234.4" r="3.7"/><circle cx="350.2" cy="240.8" r="3.7"/><circle cx="350.8" cy="238.2" r="3.7"/><circle cx="351.4" cy="243.4" r="3.7"/><circle cx="352.0" cy="242.1" r="3.7"/><circle cx="352.6" cy="244.6" r="3.7"/><circle cx="353.2" cy="243.4" r="3.7"/><circle cx="353.8" cy="239.5" r="3.7"/><circle cx="354.4" cy="236.9" r="3.7"/><circle cx="355.0" cy="235.7" r="3.7"/><circle cx="355.6" cy="233.1" r="3.7"/><circle cx="356.2" cy="231.8" r="3.7"/><circle cx="356.7" cy="231.8" r="3.7"/><circle cx="357.3" cy="235.7" r="3.7"/><circle cx="357.9" cy="238.2" r="3.7"/><circle cx="358.5" cy="243.4" r="3.7"/><circle cx="359.1" cy="243.4" r="3.7"/><circle cx="359.7" cy="242.1" r="3.7"/><circle cx="360.3" cy="240.8" r="3.7"/><circle cx="360.9" cy="244.6" r="3.7"/><circle cx="361.5" cy="240.8" r="3.7"/><circle cx="362.1" cy="242.1" r="3.7"/><circle cx="362.7" cy="239.5" r="3.7"/><circle cx="363.3" cy="240.8" r="3.7"/><circle cx="363.9" cy="236.9" r="3.7"/><circle cx="364.5" cy="235.7" r="3.7"/><circle cx="365.1" cy="230.5" r="3.7"/><circle cx="365.7" cy="229.2" r="3.7"/><circle cx="366.3" cy="226.7" r="3.7"/><circle cx="366.8" cy="228.0" r="3.7"/><circle cx="367.4" cy="224.1" r="3.7"/><circle cx="368.0" cy="222.8" r="3.7"/><circle cx="368.6" cy="226.7" r="3.7"/><circle cx="369.2" cy="233.1" r="3.7"/><circle cx="369.8" cy="238.2" r="3.7"/><circle cx="370.4" cy="240.8" r="3.7"/><circle cx="371.0" cy="239.5" r="3.7"/><circle cx="371.6" cy="245.9" r="3.7"/><circle cx="372.2" cy="242.1" r="3.7"/><circle cx="372.8" cy="244.6" r="3.7"/><circle cx="373.4" cy="238.2" r="3.7"/><circle cx="374.0" cy="238.2" r="3.7"/><circle cx="374.6" cy="233.1" r="3.7"/><circle cx="375.2" cy="233.1" r="3.7"/><circle cx="375.8" cy="228.0" r="3.7"/><circle cx="376.3" cy="229.2" r="3.7"/><circle cx="376.9" cy="228.0" r="3.7"/><circle cx="377.5" cy="228.0" r="3.7"/><circle cx="378.1" cy="225.4" r="3.7"/><circle cx="378.7" cy="225.4" r="3.7"/><circle cx="379.3" cy="221.5" r="3.7"/><circle cx="379.9" cy="221.5" r="3.7"/><circle cx="380.5" cy="222.8" r="3.7"/><circle cx="381.1" cy="220.2" r="3.7"/><circle cx="381.7" cy="217.7" r="3.7"/><circle cx="382.3" cy="224.1" r="3.7"/><circle cx="382.9" cy="224.1" r="3.7"/><circle cx="383.5" cy="229.2" r="3.7"/><circle cx="384.1" cy="226.7" r="3.7"/><circle cx="384.7" cy="233.1" r="3.7"/><circle cx="385.3" cy="230.5" r="3.7"/><circle cx="385.8" cy="235.7" r="3.7"/><circle cx="386.4" cy="236.9" r="3.7"/><circle cx="387.0" cy="242.1" r="3.7"/><circle cx="387.6" cy="242.1" r="3.7"/><circle cx="388.2" cy="245.9" r="3.7"/><circle cx="388.8" cy="244.6" r="3.7"/><circle cx="389.4" cy="251.1" r="3.7"/><circle cx="390.0" cy="251.1" r="3.7"/><circle cx="390.6" cy="252.3" r="3.7"/><circle cx="391.2" cy="245.9" r="3.7"/><circle cx="391.8" cy="248.5" r="3.7"/><circle cx="392.4" cy="243.4" r="3.7"/><circle cx="393.0" cy="244.6" r="3.7"/><circle cx="393.6" cy="238.2" r="3.7"/><circle cx="394.2" cy="239.5" r="3.7"/><circle cx="394.8" cy="231.8" r="3.7"/><circle cx="395.3" cy="234.4" r="3.7"/><circle cx="395.9" cy="230.5" r="3.7"/><circle cx="396.5" cy="236.9" r="3.7"/><circle cx="397.1" cy="238.2" r="3.7"/><circle cx="397.7" cy="239.5" r="3.7"/><circle cx="398.3" cy="240.8" r="3.7"/><circle cx="398.9" cy="244.6" r="3.7"/><circle cx="399.5" cy="240.8" r="3.7"/><circle cx="400.1" cy="243.4" r="3.7"/><circle cx="400.7" cy="236.9" r="3.7"/><circle cx="401.3" cy="239.5" r="3.7"/><circle cx="401.9" cy="235.7" r="3.7"/><circle cx="402.5" cy="233.1" r="3.7"/><circle cx="403.1" cy="229.2" r="3.7"/><circle cx="403.7" cy="233.1" r="3.7"/><circle cx="404.3" cy="231.8" r="3.7"/><circle cx="404.9" cy="229.2" r="3.7"/><circle cx="405.4" cy="230.5" r="3.7"/><circle cx="406.0" cy="228.0" r="3.7"/><circle cx="406.6" cy="229.2" r="3.7"/><circle cx="407.2" cy="234.4" r="3.7"/><circle cx="407.8" cy="231.8" r="3.7"/><circle cx="408.4" cy="236.9" r="3.7"/><circle cx="409.0" cy="235.7" r="3.7"/><circle cx="409.6" cy="240.8" r="3.7"/><circle cx="410.2" cy="238.2" r="3.7"/><circle cx="410.8" cy="243.4" r="3.7"/><circle cx="411.4" cy="243.4" r="3.7"/><circle cx="412.0" cy="252.3" r="3.7"/><circle cx="412.6" cy="253.6" r="3.7"/><circle cx="413.2" cy="253.6" r="3.7"/><circle cx="413.8" cy="252.3" r="3.7"/><circle cx="414.4" cy="257.5" r="3.7"/><circle cx="414.9" cy="251.1" r="3.7"/><circle cx="415.5" cy="253.6" r="3.7"/><circle cx="416.1" cy="251.1" r="3.7"/><circle cx="416.7" cy="253.6" r="3.7"/><circle cx="417.3" cy="252.3" r="3.7"/><circle cx="417.9" cy="258.8" r="3.7"/><circle cx="418.5" cy="260.1" r="3.7"/><circle cx="419.1" cy="263.9" r="3.7"/><circle cx="419.7" cy="262.6" r="3.7"/><circle cx="420.3" cy="260.1" r="3.7"/><circle cx="420.9" cy="262.6" r="3.7"/><circle cx="421.5" cy="265.2" r="3.7"/><circle cx="422.1" cy="261.3" r="3.7"/><circle cx="422.7" cy="262.6" r="3.7"/><circle cx="423.3" cy="260.1" r="3.7"/><circle cx="423.9" cy="265.2" r="3.7"/><circle cx="424.4" cy="269.0" r="3.7"/><circle cx="425.0" cy="272.9" r="3.7"/><circle cx="425.6" cy="275.5" r="3.7"/><circle cx="426.2" cy="280.6" r="3.7"/><circle cx="426.8" cy="276.7" r="3.7"/><circle cx="427.4" cy="276.7" r="3.7"/><circle cx="428.0" cy="272.9" r="3.7"/><circle cx="428.6" cy="275.5" r="3.7"/><circle cx="429.2" cy="270.3" r="3.7"/><circle cx="429.8" cy="271.6" r="3.7"/><circle cx="430.4" cy="265.2" r="3.7"/><circle cx="431.0" cy="266.5" r="3.7"/><circle cx="431.6" cy="260.1" r="3.7"/><circle cx="432.2" cy="260.1" r="3.7"/><circle cx="432.8" cy="254.9" r="3.7"/><circle cx="433.4" cy="254.9" r="3.7"/><circle cx="433.9" cy="253.6" r="3.7"/><circle cx="434.5" cy="260.1" r="3.7"/><circle cx="435.1" cy="258.8" r="3.7"/><circle cx="435.7" cy="262.6" r="3.7"/><circle cx="436.3" cy="258.8" r="3.7"/><circle cx="436.9" cy="263.9" r="3.7"/><circle cx="437.5" cy="263.9" r="3.7"/><circle cx="438.1" cy="269.0" r="3.7"/><circle cx="438.7" cy="265.2" r="3.7"/><circle cx="439.3" cy="271.6" r="3.7"/><circle cx="439.9" cy="269.0" r="3.7"/><circle cx="440.5" cy="276.7" r="3.7"/><circle cx="441.1" cy="272.9" r="3.7"/><circle cx="441.7" cy="276.7" r="3.7"/><circle cx="442.3" cy="280.6" r="3.7"/><circle cx="442.9" cy="279.3" r="3.7"/><circle cx="443.5" cy="276.7" r="3.7"/><circle cx="444.0" cy="283.2" r="3.7"/><circle cx="444.6" cy="279.3" r="3.7"/><circle cx="445.2" cy="279.3" r="3.7"/><circle cx="445.8" cy="279.3" r="3.7"/><circle cx="446.4" cy="278.0" r="3.7"/><circle cx="447.0" cy="278.0" r="3.7"/><circle cx="447.6" cy="274.2" r="3.7"/><circle cx="448.2" cy="269.0" r="3.7"/><circle cx="448.8" cy="271.6" r="3.7"/><circle cx="449.4" cy="265.2" r="3.7"/><circle cx="450.0" cy="269.0" r="3.7"/><circle cx="450.6" cy="265.2" r="3.7"/><circle cx="451.2" cy="266.5" r="3.7"/><circle cx="451.8" cy="265.2" r="3.7"/><circle cx="452.4" cy="270.3" r="3.7"/><circle cx="453.0" cy="271.6" r="3.7"/><circle cx="453.5" cy="275.5" r="3.7"/><circle cx="454.1" cy="278.0" r="3.7"/><circle cx="454.7" cy="281.9" r="3.7"/><circle cx="455.3" cy="278.0" r="3.7"/><circle cx="455.9" cy="280.6" r="3.7"/><circle cx="456.5" cy="274.2" r="3.7"/><circle cx="457.1" cy="276.7" r="3.7"/><circle cx="457.7" cy="271.6" r="3.7"/><circle cx="458.3" cy="272.9" r="3.7"/><circle cx="458.9" cy="266.5" r="3.7"/><circle cx="459.5" cy="267.8" r="3.7"/><circle cx="460.1" cy="262.6" r="3.7"/><circle cx="460.7" cy="262.6" r="3.7"/><circle cx="461.3" cy="258.8" r="3.7"/><circle cx="461.9" cy="254.9" r="3.7"/><circle cx="462.5" cy="256.2" r="3.7"/><circle cx="463.0" cy="257.5" r="3.7"/><circle cx="463.6" cy="253.6" r="3.7"/><circle cx="464.2" cy="257.5" r="3.7"/><circle cx="464.8" cy="253.6" r="3.7"/><circle cx="465.4" cy="256.2" r="3.7"/><circle cx="466.0" cy="254.9" r="3.7"/><circle cx="466.6" cy="257.5" r="3.7"/><circle cx="467.2" cy="251.1" r="3.7"/><circle cx="467.8" cy="256.2" r="3.7"/><circle cx="468.4" cy="261.3" r="3.7"/><circle cx="469.0" cy="267.8" r="3.7"/><circle cx="469.6" cy="261.3" r="3.7"/><circle cx="470.2" cy="263.9" r="3.7"/><circle cx="470.8" cy="257.5" r="3.7"/><circle cx="471.4" cy="260.1" r="3.7"/><circle cx="472.0" cy="258.8" r="3.7"/><circle cx="472.5" cy="261.3" r="3.7"/><circle cx="473.1" cy="257.5" r="3.7"/><circle cx="473.7" cy="258.8" r="3.7"/><circle cx="474.3" cy="256.2" r="3.7"/><circle cx="474.9" cy="260.1" r="3.7"/><circle cx="475.5" cy="262.6" r="3.7"/><circle cx="476.1" cy="260.1" r="3.7"/><circle cx="476.7" cy="256.2" r="3.7"/><circle cx="477.3" cy="257.5" r="3.7"/><circle cx="477.9" cy="261.3" r="3.7"/><circle cx="478.5" cy="266.5" r="3.7"/><circle cx="479.1" cy="271.6" r="3.7"/><circle cx="479.7" cy="279.3" r="3.7"/><circle cx="480.3" cy="275.5" r="3.7"/><circle cx="480.9" cy="280.6" r="3.7"/><circle cx="481.5" cy="280.6" r="3.7"/><circle cx="482.1" cy="287.0" r="3.7"/><circle cx="482.6" cy="284.4" r="3.7"/><circle cx="483.2" cy="292.2" r="3.7"/><circle cx="483.8" cy="288.3" r="3.7"/><circle cx="484.4" cy="288.3" r="3.7"/><circle cx="485.0" cy="284.4" r="3.7"/><circle cx="485.6" cy="285.7" r="3.7"/><circle cx="486.2" cy="280.6" r="3.7"/><circle cx="486.8" cy="284.4" r="3.7"/><circle cx="487.4" cy="281.9" r="3.7"/><circle cx="488.0" cy="280.6" r="3.7"/><circle cx="488.6" cy="279.3" r="3.7"/><circle cx="489.2" cy="279.3" r="3.7"/><circle cx="489.8" cy="272.9" r="3.7"/><circle cx="490.4" cy="278.0" r="3.7"/><circle cx="491.0" cy="275.5" r="3.7"/><circle cx="491.6" cy="278.0" r="3.7"/><circle cx="492.1" cy="274.2" r="3.7"/><circle cx="492.7" cy="279.3" r="3.7"/><circle cx="493.3" cy="276.7" r="3.7"/><circle cx="493.9" cy="280.6" r="3.7"/><circle cx="494.5" cy="276.7" r="3.7"/><circle cx="495.1" cy="276.7" r="3.7"/><circle cx="495.7" cy="278.0" r="3.7"/><circle cx="496.3" cy="284.4" r="3.7"/><circle cx="496.9" cy="281.9" r="3.7"/><circle cx="497.5" cy="287.0" r="3.7"/><circle cx="498.1" cy="284.4" r="3.7"/><circle cx="498.7" cy="288.3" r="3.7"/><circle cx="499.3" cy="287.0" r="3.7"/><circle cx="499.9" cy="293.4" r="3.7"/><circle cx="500.5" cy="288.3" r="3.7"/><circle cx="501.1" cy="287.0" r="3.7"/><circle cx="501.6" cy="288.3" r="3.7"/><circle cx="502.2" cy="289.6" r="3.7"/><circle cx="502.8" cy="288.3" r="3.7"/><circle cx="503.4" cy="285.7" r="3.7"/><circle cx="504.0" cy="281.9" r="3.7"/><circle cx="504.6" cy="283.2" r="3.7"/><circle cx="505.2" cy="279.3" r="3.7"/><circle cx="505.8" cy="283.2" r="3.7"/><circle cx="506.4" cy="281.9" r="3.7"/><circle cx="507.0" cy="287.0" r="3.7"/><circle cx="507.6" cy="287.0" r="3.7"/><circle cx="508.2" cy="293.4" r="3.7"/><circle cx="508.8" cy="290.9" r="3.7"/><circle cx="509.4" cy="296.0" r="3.7"/><circle cx="510.0" cy="289.6" r="3.7"/><circle cx="510.6" cy="289.6" r="3.7"/><circle cx="511.1" cy="285.7" r="3.7"/><circle cx="511.7" cy="285.7" r="3.7"/><circle cx="512.3" cy="279.3" r="3.7"/><circle cx="512.9" cy="280.6" r="3.7"/><circle cx="513.5" cy="275.5" r="3.7"/><circle cx="514.1" cy="275.5" r="3.7"/><circle cx="514.7" cy="278.0" r="3.7"/><circle cx="515.3" cy="280.6" r="3.7"/><circle cx="515.9" cy="280.6" r="3.7"/><circle cx="516.5" cy="279.3" r="3.7"/><circle cx="517.1" cy="281.9" r="3.7"/><circle cx="517.7" cy="283.2" r="3.7"/><circle cx="518.3" cy="283.2" r="3.7"/><circle cx="518.9" cy="288.3" r="3.7"/><circle cx="519.5" cy="285.7" r="3.7"/><circle cx="520.1" cy="290.9" r="3.7"/><circle cx="520.6" cy="289.6" r="3.7"/><circle cx="521.2" cy="294.7" r="3.7"/><circle cx="521.8" cy="293.4" r="3.7"/><circle cx="522.4" cy="292.2" r="3.7"/><circle cx="523.0" cy="290.9" r="3.7"/><circle cx="523.6" cy="293.4" r="3.7"/><circle cx="524.2" cy="289.6" r="3.7"/><circle cx="524.8" cy="289.6" r="3.7"/><circle cx="525.4" cy="287.0" r="3.7"/><circle cx="526.0" cy="288.3" r="3.7"/><circle cx="526.6" cy="285.7" r="3.7"/><circle cx="527.2" cy="276.7" r="3.7"/><circle cx="527.8" cy="275.5" r="3.7"/><circle cx="528.4" cy="276.7" r="3.7"/><circle cx="529.0" cy="270.3" r="3.7"/><circle cx="529.6" cy="272.9" r="3.7"/><circle cx="530.2" cy="269.0" r="3.7"/><circle cx="530.7" cy="270.3" r="3.7"/><circle cx="531.3" cy="267.8" r="3.7"/><circle cx="531.9" cy="269.0" r="3.7"/><circle cx="532.5" cy="269.0" r="3.7"/><circle cx="533.1" cy="265.2" r="3.7"/><circle cx="533.7" cy="266.5" r="3.7"/><circle cx="534.3" cy="267.8" r="3.7"/><circle cx="534.9" cy="266.5" r="3.7"/><circle cx="535.5" cy="266.5" r="3.7"/><circle cx="536.1" cy="263.9" r="3.7"/><circle cx="536.7" cy="266.5" r="3.7"/><circle cx="537.3" cy="269.0" r="3.7"/><circle cx="537.9" cy="270.3" r="3.7"/><circle cx="538.5" cy="275.5" r="3.7"/><circle cx="539.1" cy="271.6" r="3.7"/><circle cx="539.7" cy="271.6" r="3.7"/><circle cx="540.2" cy="272.9" r="3.7"/><circle cx="540.8" cy="265.2" r="3.7"/><circle cx="541.4" cy="263.9" r="3.7"/><circle cx="542.0" cy="260.1" r="3.7"/><circle cx="542.6" cy="258.8" r="3.7"/><circle cx="543.2" cy="254.9" r="3.7"/><circle cx="543.8" cy="254.9" r="3.7"/><circle cx="544.4" cy="252.3" r="3.7"/><circle cx="545.0" cy="249.8" r="3.7"/><circle cx="545.6" cy="251.1" r="3.7"/><circle cx="546.2" cy="249.8" r="3.7"/><circle cx="546.8" cy="245.9" r="3.7"/><circle cx="547.4" cy="248.5" r="3.7"/><circle cx="548.0" cy="248.5" r="3.7"/><circle cx="548.6" cy="254.9" r="3.7"/><circle cx="549.2" cy="256.2" r="3.7"/><circle cx="549.7" cy="262.6" r="3.7"/><circle cx="550.3" cy="261.3" r="3.7"/><circle cx="550.9" cy="265.2" r="3.7"/><circle cx="551.5" cy="263.9" r="3.7"/><circle cx="552.1" cy="269.0" r="3.7"/><circle cx="552.7" cy="263.9" r="3.7"/><circle cx="553.3" cy="265.2" r="3.7"/><circle cx="553.9" cy="266.5" r="3.7"/><circle cx="554.5" cy="267.8" r="3.7"/><circle cx="555.1" cy="263.9" r="3.7"/><circle cx="555.7" cy="266.5" r="3.7"/><circle cx="556.3" cy="262.6" r="3.7"/><circle cx="556.9" cy="262.6" r="3.7"/><circle cx="557.5" cy="256.2" r="3.7"/><circle cx="558.1" cy="256.2" r="3.7"/><circle cx="558.7" cy="252.3" r="3.7"/><circle cx="559.2" cy="252.3" r="3.7"/><circle cx="559.8" cy="248.5" r="3.7"/><circle cx="560.4" cy="245.9" r="3.7"/><circle cx="561.0" cy="249.8" r="3.7"/><circle cx="561.6" cy="254.9" r="3.7"/><circle cx="562.2" cy="253.6" r="3.7"/><circle cx="562.8" cy="258.8" r="3.7"/><circle cx="563.4" cy="258.8" r="3.7"/><circle cx="564.0" cy="262.6" r="3.7"/><circle cx="564.6" cy="260.1" r="3.7"/><circle cx="565.2" cy="260.1" r="3.7"/><circle cx="565.8" cy="254.9" r="3.7"/><circle cx="566.4" cy="257.5" r="3.7"/><circle cx="567.0" cy="251.1" r="3.7"/><circle cx="567.6" cy="252.3" r="3.7"/><circle cx="568.2" cy="247.2" r="3.7"/><circle cx="568.8" cy="248.5" r="3.7"/><circle cx="569.3" cy="243.4" r="3.7"/><circle cx="569.9" cy="243.4" r="3.7"/><circle cx="570.5" cy="239.5" r="3.7"/><circle cx="571.1" cy="242.1" r="3.7"/><circle cx="571.7" cy="238.2" r="3.7"/><circle cx="572.3" cy="233.1" r="3.7"/><circle cx="572.9" cy="230.5" r="3.7"/><circle cx="573.5" cy="228.0" r="3.7"/><circle cx="574.1" cy="222.8" r="3.7"/><circle cx="574.7" cy="224.1" r="3.7"/><circle cx="575.3" cy="221.5" r="3.7"/><circle cx="575.9" cy="225.4" r="3.7"/><circle cx="576.5" cy="221.5" r="3.7"/><circle cx="577.1" cy="222.8" r="3.7"/><circle cx="577.7" cy="221.5" r="3.7"/><circle cx="578.3" cy="228.0" r="3.7"/><circle cx="578.8" cy="224.1" r="3.7"/><circle cx="579.4" cy="239.5" r="3.7"/><circle cx="580.0" cy="235.7" r="3.7"/><circle cx="580.6" cy="240.8" r="3.7"/><circle cx="581.2" cy="239.5" r="3.7"/><circle cx="581.8" cy="240.8" r="3.7"/><circle cx="582.4" cy="240.8" r="3.7"/><circle cx="583.0" cy="243.4" r="3.7"/><circle cx="583.6" cy="231.8" r="3.7"/><circle cx="584.2" cy="233.1" r="3.7"/><circle cx="584.8" cy="230.5" r="3.7"/><circle cx="585.4" cy="233.1" r="3.7"/><circle cx="586.0" cy="231.8" r="3.7"/><circle cx="586.6" cy="234.4" r="3.7"/><circle cx="587.2" cy="229.2" r="3.7"/><circle cx="587.8" cy="233.1" r="3.7"/><circle cx="588.3" cy="230.5" r="3.7"/><circle cx="588.9" cy="230.5" r="3.7"/><circle cx="589.5" cy="230.5" r="3.7"/><circle cx="590.1" cy="235.7" r="3.7"/><circle cx="590.7" cy="235.7" r="3.7"/><circle cx="591.3" cy="235.7" r="3.7"/><circle cx="591.9" cy="235.7" r="3.7"/><circle cx="592.5" cy="238.2" r="3.7"/><circle cx="593.1" cy="235.7" r="3.7"/><circle cx="593.7" cy="239.5" r="3.7"/><circle cx="594.3" cy="242.1" r="3.7"/><circle cx="594.9" cy="248.5" r="3.7"/><circle cx="595.5" cy="247.2" r="3.7"/><circle cx="596.1" cy="252.3" r="3.7"/><circle cx="596.7" cy="248.5" r="3.7"/><circle cx="597.3" cy="252.3" r="3.7"/><circle cx="597.8" cy="245.9" r="3.7"/><circle cx="598.4" cy="247.2" r="3.7"/><circle cx="599.0" cy="244.6" r="3.7"/><circle cx="599.6" cy="243.4" r="3.7"/><circle cx="600.2" cy="244.6" r="3.7"/><circle cx="600.8" cy="244.6" r="3.7"/><circle cx="601.4" cy="242.1" r="3.7"/><circle cx="602.0" cy="248.5" r="3.7"/><circle cx="602.6" cy="243.4" r="3.7"/><circle cx="603.2" cy="245.9" r="3.7"/><circle cx="603.8" cy="242.1" r="3.7"/><circle cx="604.4" cy="243.4" r="3.7"/><circle cx="605.0" cy="238.2" r="3.7"/><circle cx="605.6" cy="239.5" r="3.7"/><circle cx="606.2" cy="236.9" r="3.7"/><circle cx="606.8" cy="236.9" r="3.7"/><circle cx="607.4" cy="235.7" r="3.7"/><circle cx="607.9" cy="233.1" r="3.7"/><circle cx="608.5" cy="229.2" r="3.7"/><circle cx="609.1" cy="231.8" r="3.7"/><circle cx="609.7" cy="234.4" r="3.7"/><circle cx="610.3" cy="240.8" r="3.7"/><circle cx="610.9" cy="242.1" r="3.7"/><circle cx="611.5" cy="244.6" r="3.7"/><circle cx="612.1" cy="242.1" r="3.7"/><circle cx="612.7" cy="248.5" r="3.7"/><circle cx="613.3" cy="245.9" r="3.7"/><circle cx="613.9" cy="247.2" r="3.7"/><circle cx="614.5" cy="247.2" r="3.7"/><circle cx="615.1" cy="251.1" r="3.7"/><circle cx="615.7" cy="247.2" r="3.7"/><circle cx="616.3" cy="253.6" r="3.7"/><circle cx="616.9" cy="248.5" r="3.7"/><circle cx="617.4" cy="249.8" r="3.7"/><circle cx="618.0" cy="252.3" r="3.7"/><circle cx="618.6" cy="253.6" r="3.7"/><circle cx="619.2" cy="251.1" r="3.7"/><circle cx="619.8" cy="256.2" r="3.7"/><circle cx="620.4" cy="254.9" r="3.7"/><circle cx="621.0" cy="252.3" r="3.7"/><circle cx="621.6" cy="254.9" r="3.7"/><circle cx="622.2" cy="260.1" r="3.7"/><circle cx="622.8" cy="258.8" r="3.7"/><circle cx="623.4" cy="263.9" r="3.7"/><circle cx="624.0" cy="263.9" r="3.7"/><circle cx="624.6" cy="271.6" r="3.7"/><circle cx="625.2" cy="269.0" r="3.7"/><circle cx="625.8" cy="267.8" r="3.7"/><circle cx="626.4" cy="269.0" r="3.7"/><circle cx="626.9" cy="270.3" r="3.7"/><circle cx="627.5" cy="266.5" r="3.7"/><circle cx="628.1" cy="270.3" r="3.7"/><circle cx="628.7" cy="266.5" r="3.7"/><circle cx="629.3" cy="265.2" r="3.7"/><circle cx="629.9" cy="265.2" r="3.7"/><circle cx="630.5" cy="263.9" r="3.7"/><circle cx="631.1" cy="265.2" r="3.7"/><circle cx="631.7" cy="266.5" r="3.7"/><circle cx="632.3" cy="267.8" r="3.7"/><circle cx="632.9" cy="270.3" r="3.7"/><circle cx="633.5" cy="269.0" r="3.7"/><circle cx="634.1" cy="272.9" r="3.7"/><circle cx="634.7" cy="270.3" r="3.7"/><circle cx="635.3" cy="276.7" r="3.7"/><circle cx="635.9" cy="271.6" r="3.7"/><circle cx="636.4" cy="276.7" r="3.7"/><circle cx="637.0" cy="270.3" r="3.7"/><circle cx="637.6" cy="274.2" r="3.7"/><circle cx="638.2" cy="270.3" r="3.7"/><circle cx="638.8" cy="274.2" r="3.7"/><circle cx="639.4" cy="270.3" r="3.7"/><circle cx="640.0" cy="272.9" r="3.7"/><circle cx="640.6" cy="269.0" r="3.7"/><circle cx="641.2" cy="271.6" r="3.7"/><circle cx="641.8" cy="269.0" r="3.7"/><circle cx="642.4" cy="271.6" r="3.7"/><circle cx="643.0" cy="270.3" r="3.7"/><circle cx="643.6" cy="270.3" r="3.7"/><circle cx="644.2" cy="267.8" r="3.7"/><circle cx="644.8" cy="274.2" r="3.7"/><circle cx="645.4" cy="272.9" r="3.7"/><circle cx="646.0" cy="276.7" r="3.7"/><circle cx="646.5" cy="275.5" r="3.7"/><circle cx="647.1" cy="279.3" r="3.7"/><circle cx="647.7" cy="280.6" r="3.7"/><circle cx="648.3" cy="284.4" r="3.7"/><circle cx="648.9" cy="281.9" r="3.7"/><circle cx="649.5" cy="288.3" r="3.7"/><circle cx="650.1" cy="284.4" r="3.7"/><circle cx="650.7" cy="289.6" r="3.7"/><circle cx="651.3" cy="285.7" r="3.7"/><circle cx="651.9" cy="292.2" r="3.7"/><circle cx="652.5" cy="289.6" r="3.7"/><circle cx="653.1" cy="292.2" r="3.7"/><circle cx="653.7" cy="293.4" r="3.7"/><circle cx="654.3" cy="290.9" r="3.7"/><circle cx="654.9" cy="287.0" r="3.7"/><circle cx="655.5" cy="292.2" r="3.7"/><circle cx="656.0" cy="287.0" r="3.7"/><circle cx="656.6" cy="290.9" r="3.7"/><circle cx="657.2" cy="287.0" r="3.7"/><circle cx="657.8" cy="290.9" r="3.7"/><circle cx="658.4" cy="287.0" r="3.7"/><circle cx="659.0" cy="288.3" r="3.7"/><circle cx="659.6" cy="285.7" r="3.7"/><circle cx="660.2" cy="289.6" r="3.7"/><circle cx="660.8" cy="284.4" r="3.7"/><circle cx="661.4" cy="281.9" r="3.7"/><circle cx="662.0" cy="276.7" r="3.7"/><circle cx="662.6" cy="274.2" r="3.7"/><circle cx="663.2" cy="272.9" r="3.7"/><circle cx="663.8" cy="269.0" r="3.7"/><circle cx="664.4" cy="265.2" r="3.7"/><circle cx="665.0" cy="270.3" r="3.7"/><circle cx="665.5" cy="265.2" r="3.7"/><circle cx="666.1" cy="270.3" r="3.7"/><circle cx="666.7" cy="270.3" r="3.7"/><circle cx="667.3" cy="271.6" r="3.7"/><circle cx="667.9" cy="270.3" r="3.7"/><circle cx="668.5" cy="271.6" r="3.7"/><circle cx="669.1" cy="270.3" r="3.7"/><circle cx="669.7" cy="274.2" r="3.7"/><circle cx="670.3" cy="271.6" r="3.7"/><circle cx="670.9" cy="275.5" r="3.7"/><circle cx="671.5" cy="276.7" r="3.7"/><circle cx="672.1" cy="281.9" r="3.7"/><circle cx="672.7" cy="284.4" r="3.7"/><circle cx="673.3" cy="289.6" r="3.7"/><circle cx="673.9" cy="290.9" r="3.7"/><circle cx="674.5" cy="296.0" r="3.7"/><circle cx="675.0" cy="296.0" r="3.7"/><circle cx="675.6" cy="302.4" r="3.7"/><circle cx="676.2" cy="297.3" r="3.7"/><circle cx="676.8" cy="299.9" r="3.7"/><circle cx="677.4" cy="293.4" r="3.7"/><circle cx="678.0" cy="296.0" r="3.7"/><circle cx="678.6" cy="289.6" r="3.7"/><circle cx="679.2" cy="293.4" r="3.7"/><circle cx="679.8" cy="288.3" r="3.7"/><circle cx="680.4" cy="288.3" r="3.7"/><circle cx="681.0" cy="288.3" r="3.7"/><circle cx="681.6" cy="287.0" r="3.7"/><circle cx="682.2" cy="284.4" r="3.7"/><circle cx="682.8" cy="287.0" r="3.7"/><circle cx="683.4" cy="280.6" r="3.7"/><circle cx="684.0" cy="287.0" r="3.7"/><circle cx="684.6" cy="288.3" r="3.7"/><circle cx="685.1" cy="289.6" r="3.7"/><circle cx="685.7" cy="293.4" r="3.7"/><circle cx="686.3" cy="298.6" r="3.7"/><circle cx="686.9" cy="293.4" r="3.7"/><circle cx="687.5" cy="298.6" r="3.7"/><circle cx="688.1" cy="294.7" r="3.7"/><circle cx="688.7" cy="297.3" r="3.7"/><circle cx="689.3" cy="293.4" r="3.7"/><circle cx="689.9" cy="297.3" r="3.7"/><circle cx="690.5" cy="292.2" r="3.7"/><circle cx="691.1" cy="296.0" r="3.7"/><circle cx="691.7" cy="293.4" r="3.7"/><circle cx="692.3" cy="296.0" r="3.7"/><circle cx="692.9" cy="296.0" r="3.7"/><circle cx="693.5" cy="292.2" r="3.7"/><circle cx="694.1" cy="293.4" r="3.7"/><circle cx="694.6" cy="292.2" r="3.7"/><circle cx="695.2" cy="283.2" r="3.7"/><circle cx="695.8" cy="283.2" r="3.7"/><circle cx="696.4" cy="275.5" r="3.7"/><circle cx="697.0" cy="278.0" r="3.7"/><circle cx="697.6" cy="278.0" r="3.7"/><circle cx="698.2" cy="278.0" r="3.7"/><circle cx="698.8" cy="279.3" r="3.7"/><circle cx="699.4" cy="285.7" r="3.7"/><circle cx="700.0" cy="281.9" r="3.7"/><circle cx="700.6" cy="288.3" r="3.7"/><circle cx="701.2" cy="285.7" r="3.7"/><circle cx="701.8" cy="288.3" r="3.7"/><circle cx="702.4" cy="285.7" r="3.7"/><circle cx="703.0" cy="281.9" r="3.7"/><circle cx="703.6" cy="278.0" r="3.7"/><circle cx="704.1" cy="279.3" r="3.7"/><circle cx="704.7" cy="272.9" r="3.7"/><circle cx="705.3" cy="276.7" r="3.7"/><circle cx="705.9" cy="275.5" r="3.7"/><circle cx="706.5" cy="276.7" r="3.7"/><circle cx="707.1" cy="275.5" r="3.7"/><circle cx="707.7" cy="278.0" r="3.7"/><circle cx="708.3" cy="276.7" r="3.7"/><circle cx="708.9" cy="280.6" r="3.7"/><circle cx="709.5" cy="276.7" r="3.7"/><circle cx="710.1" cy="278.0" r="3.7"/><circle cx="710.7" cy="280.6" r="3.7"/><circle cx="711.3" cy="283.2" r="3.7"/><circle cx="711.9" cy="285.7" r="3.7"/><circle cx="712.5" cy="283.2" r="3.7"/><circle cx="713.1" cy="281.9" r="3.7"/><circle cx="713.6" cy="287.0" r="3.7"/><circle cx="714.2" cy="284.4" r="3.7"/><circle cx="714.8" cy="288.3" r="3.7"/><circle cx="715.4" cy="285.7" r="3.7"/><circle cx="716.0" cy="290.9" r="3.7"/><circle cx="716.6" cy="287.0" r="3.7"/><circle cx="717.2" cy="288.3" r="3.7"/><circle cx="717.8" cy="284.4" r="3.7"/><circle cx="718.4" cy="289.6" r="3.7"/><circle cx="719.0" cy="284.4" r="3.7"/><circle cx="719.6" cy="287.0" r="3.7"/><circle cx="720.2" cy="283.2" r="3.7"/><circle cx="720.8" cy="287.0" r="3.7"/><circle cx="721.4" cy="284.4" r="3.7"/><circle cx="722.0" cy="287.0" r="3.7"/><circle cx="722.6" cy="284.4" r="3.7"/><circle cx="723.1" cy="285.7" r="3.7"/><circle cx="723.7" cy="280.6" r="3.7"/><circle cx="724.3" cy="283.2" r="3.7"/><circle cx="724.9" cy="279.3" r="3.7"/><circle cx="725.5" cy="279.3" r="3.7"/><circle cx="726.1" cy="276.7" r="3.7"/><circle cx="726.7" cy="276.7" r="3.7"/><circle cx="727.3" cy="274.2" r="3.7"/><circle cx="727.9" cy="274.2" r="3.7"/><circle cx="728.5" cy="267.8" r="3.7"/><circle cx="729.1" cy="272.9" r="3.7"/><circle cx="729.7" cy="266.5" r="3.7"/><circle cx="730.3" cy="270.3" r="3.7"/><circle cx="730.9" cy="269.0" r="3.7"/><circle cx="731.5" cy="274.2" r="3.7"/><circle cx="732.1" cy="271.6" r="3.7"/><circle cx="732.7" cy="275.5" r="3.7"/><circle cx="733.2" cy="275.5" r="3.7"/><circle cx="733.8" cy="278.0" r="3.7"/><circle cx="734.4" cy="279.3" r="3.7"/><circle cx="735.0" cy="284.4" r="3.7"/><circle cx="735.6" cy="280.6" r="3.7"/><circle cx="736.2" cy="284.4" r="3.7"/><circle cx="736.8" cy="285.7" r="3.7"/><circle cx="737.4" cy="290.9" r="3.7"/><circle cx="738.0" cy="290.9" r="3.7"/><circle cx="738.6" cy="297.3" r="3.7"/><circle cx="739.2" cy="294.7" r="3.7"/><circle cx="739.8" cy="301.1" r="3.7"/><circle cx="740.4" cy="305.0" r="3.7"/><circle cx="741.0" cy="305.0" r="3.7"/><circle cx="741.6" cy="303.7" r="3.7"/><circle cx="742.2" cy="306.3" r="3.7"/><circle cx="742.7" cy="298.6" r="3.7"/><circle cx="743.3" cy="298.6" r="3.7"/><circle cx="743.9" cy="296.0" r="3.7"/><circle cx="744.5" cy="297.3" r="3.7"/><circle cx="745.1" cy="292.2" r="3.7"/><circle cx="745.7" cy="290.9" r="3.7"/><circle cx="746.3" cy="293.4" r="3.7"/><circle cx="746.9" cy="301.1" r="3.7"/><circle cx="747.5" cy="302.4" r="3.7"/><circle cx="748.1" cy="308.8" r="3.7"/><circle cx="748.7" cy="301.1" r="3.7"/><circle cx="749.3" cy="303.7" r="3.7"/><circle cx="749.9" cy="297.3" r="3.7"/><circle cx="750.5" cy="301.1" r="3.7"/><circle cx="751.1" cy="296.0" r="3.7"/><circle cx="751.7" cy="296.0" r="3.7"/><circle cx="752.2" cy="289.6" r="3.7"/><circle cx="752.8" cy="292.2" r="3.7"/><circle cx="753.4" cy="290.9" r="3.7"/><circle cx="754.0" cy="298.6" r="3.7"/><circle cx="754.6" cy="298.6" r="3.7"/><circle cx="755.2" cy="305.0" r="3.7"/><circle cx="755.8" cy="303.7" r="3.7"/><circle cx="756.4" cy="306.3" r="3.7"/><circle cx="757.0" cy="302.4" r="3.7"/><circle cx="757.6" cy="302.4" r="3.7"/><circle cx="758.2" cy="301.1" r="3.7"/><circle cx="758.8" cy="302.4" r="3.7"/><circle cx="759.4" cy="301.1" r="3.7"/><circle cx="760.0" cy="305.0" r="3.7"/><circle cx="760.6" cy="301.1" r="3.7"/></g>

<path d="M159.0 456.5L159.6 452.7L160.2 453.9L160.8 451.4L161.4 452.7L162.0 450.1L162.6 452.7L163.2 452.7L163.8 456.5L164.3 455.2L164.9 456.5L165.5 456.5L166.1 457.8L166.7 459.1L167.3 460.4L167.9 459.1L168.5 459.1L169.1 456.5L169.7 457.8L170.3 455.2L170.9 453.9L171.5 455.2L172.1 455.2L172.7 452.7L173.3 455.2L173.8 453.9L174.4 453.9L175.0 453.9L175.6 455.2L176.2 452.7L176.8 455.2L177.4 452.7L178.0 455.2L178.6 452.7L179.2 455.2L179.8 453.9L180.4 459.1L181.0 456.5L181.6 459.1L182.2 461.6L182.8 462.9L183.3 464.2L183.9 465.5L184.5 462.9L185.1 462.9L185.7 460.4L186.3 462.9L186.9 461.6L187.5 462.9L188.1 464.2L188.7 464.2L189.3 462.9L189.9 466.8L190.5 466.8L191.1 469.3L191.7 468.1L192.3 470.6L192.8 468.1L193.4 468.1L194.0 466.8L194.6 469.3L195.2 466.8L195.8 468.1L196.4 465.5L197.0 469.3L197.6 468.1L198.2 471.9L198.8 471.9L199.4 474.5L200.0 475.8L200.6 479.6L201.2 478.3L201.8 479.6L202.4 475.8L202.9 477.0L203.5 478.3L204.1 477.0L204.7 475.8L205.3 477.0L205.9 474.5L206.5 475.8L207.1 470.6L207.7 469.3L208.3 464.2L208.9 464.2L209.5 460.4L210.1 461.6L210.7 460.4L211.3 461.6L211.9 461.6L212.4 464.2L213.0 461.6L213.6 465.5L214.2 462.9L214.8 465.5L215.4 461.6L216.0 461.6L216.6 461.6L217.2 461.6L217.8 457.8L218.4 459.1L219.0 456.5L219.6 460.4L220.2 457.8L220.8 460.4L221.4 460.4L221.9 461.6L222.5 461.6L223.1 462.9L223.7 462.9L224.3 464.2L224.9 464.2L225.5 466.8L226.1 462.9L226.7 465.5L227.3 462.9L227.9 464.2L228.5 461.6L229.1 462.9L229.7 461.6L230.3 461.6L230.9 460.4L231.4 461.6L232.0 460.4L232.6 461.6L233.2 459.1L233.8 459.1L234.4 457.8L235.0 457.8L235.6 453.9L236.2 455.2L236.8 453.9L237.4 452.7L238.0 452.7L238.6 452.7L239.2 451.4L239.8 452.7L240.4 452.7L241.0 455.2L241.5 455.2L242.1 456.5L242.7 453.9L243.3 455.2L243.9 452.7L244.5 452.7L245.1 451.4L245.7 452.7L246.3 450.1L246.9 451.4L247.5 451.4L248.1 451.4L248.7 455.2L249.3 455.2L249.9 455.2L250.5 459.1L251.0 461.6L251.6 460.4L252.2 457.8L252.8 457.8L253.4 457.8L254.0 456.5L254.6 453.9L255.2 456.5L255.8 452.7L256.4 451.4L257.0 451.4L257.6 451.4L258.2 450.1L258.8 448.8L259.4 450.1L260.0 450.1L260.5 448.8L261.1 450.1L261.7 447.5L262.3 450.1L262.9 446.2L263.5 448.8L264.1 447.5L264.7 447.5L265.3 451.4L265.9 451.4L266.5 448.8L267.1 451.4L267.7 447.5L268.3 448.8L268.9 443.7L269.5 446.2L270.0 442.4L270.6 442.4L271.2 442.4L271.8 441.1L272.4 438.5L273.0 439.8L273.6 436.0L274.2 437.2L274.8 436.0L275.4 436.0L276.0 434.7L276.6 437.2L277.2 437.2L277.8 438.5L278.4 436.0L279.0 438.5L279.5 438.5L280.1 439.8L280.7 439.8L281.3 442.4L281.9 439.8L282.5 442.4L283.1 438.5L283.7 441.1L284.3 437.2L284.9 439.8L285.5 437.2L286.1 438.5L286.7 434.7L287.3 438.5L287.9 437.2L288.5 441.1L289.1 438.5L289.6 443.7L290.2 441.1L290.8 446.2L291.4 444.9L292.0 446.2L292.6 444.9L293.2 444.9L293.8 443.7L294.4 444.9L295.0 442.4L295.6 443.7L296.2 443.7L296.8 443.7L297.4 446.2L298.0 451.4L298.6 450.1L299.1 452.7L299.7 447.5L300.3 447.5L300.9 450.1L301.5 447.5L302.1 447.5L302.7 446.2L303.3 447.5L303.9 447.5L304.5 447.5L305.1 448.8L305.7 447.5L306.3 448.8L306.9 446.2L307.5 447.5L308.1 447.5L308.6 447.5L309.2 447.5L309.8 446.2L310.4 444.9L311.0 443.7L311.6 442.4L312.2 441.1L312.8 438.5L313.4 439.8L314.0 439.8L314.6 441.1L315.2 441.1L315.8 441.1L316.4 439.8L317.0 443.7L317.6 442.4L318.1 443.7L318.7 443.7L319.3 443.7L319.9 446.2L320.5 448.8L321.1 451.4L321.7 452.7L322.3 451.4L322.9 455.2L323.5 455.2L324.1 457.8L324.7 457.8L325.3 460.4L325.9 456.5L326.5 459.1L327.1 456.5L327.7 456.5L328.2 455.2L328.8 452.7L329.4 451.4L330.0 452.7L330.6 452.7L331.2 453.9L331.8 455.2L332.4 457.8L333.0 456.5L333.6 460.4L334.2 459.1L334.8 462.9L335.4 460.4L336.0 462.9L336.6 461.6L337.2 464.2L337.7 462.9L338.3 465.5L338.9 465.5L339.5 464.2L340.1 460.4L340.7 457.8L341.3 452.7L341.9 453.9L342.5 452.7L343.1 453.9L343.7 453.9L344.3 455.2L344.9 455.2L345.5 457.8L346.1 457.8L346.7 456.5L347.2 453.9L347.8 455.2L348.4 450.1L349.0 448.8L349.6 448.8L350.2 452.7L350.8 450.1L351.4 452.7L352.0 450.1L352.6 452.7L353.2 453.9L353.8 452.7L354.4 450.1L355.0 448.8L355.6 447.5L356.2 448.8L356.7 444.9L357.3 443.7L357.9 444.9L358.5 443.7L359.1 443.7L359.7 444.9L360.3 444.9L360.9 444.9L361.5 444.9L362.1 443.7L362.7 441.1L363.3 443.7L363.9 443.7L364.5 443.7L365.1 442.4L365.7 443.7L366.3 443.7L366.8 446.2L367.4 444.9L368.0 446.2L368.6 444.9L369.2 444.9L369.8 446.2L370.4 447.5L371.0 446.2L371.6 447.5L372.2 446.2L372.8 446.2L373.4 444.9L374.0 444.9L374.6 442.4L375.2 443.7L375.8 442.4L376.3 443.7L376.9 441.1L377.5 442.4L378.1 441.1L378.7 442.4L379.3 443.7L379.9 442.4L380.5 442.4L381.1 443.7L381.7 442.4L382.3 443.7L382.9 439.8L383.5 441.1L384.1 438.5L384.7 439.8L385.3 441.1L385.8 441.1L386.4 438.5L387.0 441.1L387.6 441.1L388.2 443.7L388.8 442.4L389.4 444.9L390.0 443.7L390.6 450.1L391.2 452.7L391.8 456.5L392.4 457.8L393.0 460.4L393.6 457.8L394.2 461.6L394.8 459.1L395.3 462.9L395.9 459.1L396.5 460.4L397.1 461.6L397.7 462.9L398.3 461.6L398.9 464.2L399.5 461.6L400.1 464.2L400.7 461.6L401.3 462.9L401.9 460.4L402.5 461.6L403.1 461.6L403.7 461.6L404.3 459.1L404.9 460.4L405.4 457.8L406.0 457.8L406.6 456.5L407.2 455.2L407.8 451.4L408.4 450.1L409.0 446.2L409.6 446.2L410.2 443.7L410.8 444.9L411.4 444.9L412.0 446.2L412.6 446.2L413.2 447.5L413.8 448.8L414.4 451.4L414.9 450.1L415.5 453.9L416.1 452.7L416.7 455.2L417.3 456.5L417.9 457.8L418.5 457.8L419.1 460.4L419.7 460.4L420.3 462.9L420.9 461.6L421.5 461.6L422.1 460.4L422.7 462.9L423.3 460.4L423.9 460.4L424.4 457.8L425.0 457.8L425.6 457.8L426.2 456.5L426.8 456.5L427.4 455.2L428.0 455.2L428.6 456.5L429.2 455.2L429.8 456.5L430.4 456.5L431.0 457.8L431.6 457.8L432.2 456.5L432.8 456.5L433.4 457.8L433.9 455.2L434.5 456.5L435.1 452.7L435.7 455.2L436.3 452.7L436.9 453.9L437.5 450.1L438.1 453.9L438.7 452.7L439.3 453.9L439.9 452.7L440.5 452.7L441.1 453.9L441.7 457.8L442.3 456.5L442.9 460.4L443.5 459.1L444.0 462.9L444.6 462.9L445.2 465.5L445.8 462.9L446.4 462.9L447.0 462.9L447.6 462.9L448.2 462.9L448.8 461.6L449.4 460.4L450.0 460.4L450.6 457.8L451.2 460.4L451.8 459.1L452.4 461.6L453.0 460.4L453.5 461.6L454.1 460.4L454.7 462.9L455.3 461.6L455.9 464.2L456.5 459.1L457.1 460.4L457.7 460.4L458.3 456.5L458.9 455.2L459.5 457.8L460.1 455.2L460.7 457.8L461.3 456.5L461.9 460.4L462.5 457.8L463.0 461.6L463.6 460.4L464.2 461.6L464.8 459.1L465.4 460.4L466.0 457.8L466.6 459.1L467.2 456.5L467.8 457.8L468.4 456.5L469.0 457.8L469.6 455.2L470.2 455.2L470.8 453.9L471.4 453.9L472.0 452.7L472.5 455.2L473.1 451.4L473.7 453.9L474.3 450.1L474.9 452.7L475.5 450.1L476.1 452.7L476.7 451.4L477.3 453.9L477.9 452.7L478.5 453.9L479.1 453.9L479.7 456.5L480.3 455.2L480.9 456.5L481.5 455.2L482.1 456.5L482.6 456.5L483.2 457.8L483.8 456.5L484.4 455.2L485.0 455.2L485.6 455.2L486.2 452.7L486.8 453.9L487.4 451.4L488.0 453.9L488.6 452.7L489.2 455.2L489.8 455.2L490.4 457.8L491.0 456.5L491.6 457.8L492.1 455.2L492.7 457.8L493.3 455.2L493.9 453.9L494.5 455.2L495.1 455.2L495.7 455.2L496.3 452.7L496.9 450.1L497.5 452.7L498.1 451.4L498.7 450.1L499.3 448.8L499.9 450.1L500.5 450.1L501.1 453.9L501.6 452.7L502.2 453.9L502.8 453.9L503.4 455.2L504.0 455.2L504.6 455.2L505.2 451.4L505.8 452.7L506.4 450.1L507.0 447.5L507.6 448.8L508.2 448.8L508.8 447.5L509.4 450.1L510.0 448.8L510.6 452.7L511.1 452.7L511.7 453.9L512.3 455.2L512.9 456.5L513.5 456.5L514.1 457.8L514.7 456.5L515.3 457.8L515.9 456.5L516.5 456.5L517.1 455.2L517.7 455.2L518.3 453.9L518.9 456.5L519.5 456.5L520.1 460.4L520.6 460.4L521.2 464.2L521.8 462.9L522.4 464.2L523.0 460.4L523.6 461.6L524.2 460.4L524.8 460.4L525.4 457.8L526.0 459.1L526.6 457.8L527.2 457.8L527.8 457.8L528.4 459.1L529.0 457.8L529.6 459.1L530.2 457.8L530.7 459.1L531.3 456.5L531.9 455.2L532.5 453.9L533.1 451.4L533.7 447.5L534.3 447.5L534.9 447.5L535.5 450.1L536.1 451.4L536.7 452.7L537.3 452.7L537.9 457.8L538.5 455.2L539.1 460.4L539.7 456.5L540.2 457.8L540.8 453.9L541.4 455.2L542.0 451.4L542.6 452.7L543.2 448.8L543.8 448.8L544.4 448.8L545.0 450.1L545.6 448.8L546.2 451.4L546.8 451.4L547.4 452.7L548.0 453.9L548.6 455.2L549.2 455.2L549.7 457.8L550.3 459.1L550.9 459.1L551.5 455.2L552.1 453.9L552.7 453.9L553.3 456.5L553.9 452.7L554.5 452.7L555.1 452.7L555.7 450.1L556.3 448.8L556.9 450.1L557.5 446.2L558.1 451.4L558.7 447.5L559.2 452.7L559.8 450.1L560.4 452.7L561.0 453.9L561.6 456.5L562.2 453.9L562.8 457.8L563.4 456.5L564.0 459.1L564.6 459.1L565.2 461.6L565.8 457.8L566.4 459.1L567.0 455.2L567.6 456.5L568.2 453.9L568.8 453.9L569.3 452.7L569.9 455.2L570.5 451.4L571.1 453.9L571.7 453.9L572.3 456.5L572.9 456.5L573.5 459.1L574.1 456.5L574.7 459.1L575.3 457.8L575.9 457.8L576.5 455.2L577.1 456.5L577.7 456.5L578.3 453.9L578.8 455.2L579.4 455.2L580.0 456.5L580.6 455.2L581.2 452.7L581.8 451.4L582.4 452.7L583.0 455.2L583.6 453.9L584.2 456.5L584.8 455.2L585.4 457.8L586.0 456.5L586.6 459.1L587.2 457.8L587.8 460.4L588.3 459.1L588.9 459.1L589.5 460.4L590.1 461.6L590.7 457.8L591.3 459.1L591.9 457.8L592.5 457.8L593.1 456.5L593.7 456.5L594.3 455.2L594.9 455.2L595.5 453.9L596.1 451.4L596.7 452.7L597.3 455.2L597.8 452.7L598.4 453.9L599.0 452.7L599.6 455.2L600.2 451.4L600.8 451.4L601.4 451.4L602.0 453.9L602.6 452.7L603.2 451.4L603.8 448.8L604.4 450.1L605.0 446.2L605.6 447.5L606.2 446.2L606.8 446.2L607.4 444.9L607.9 447.5L608.5 444.9L609.1 446.2L609.7 444.9L610.3 446.2L610.9 444.9L611.5 447.5L612.1 444.9L612.7 447.5L613.3 444.9L613.9 446.2L614.5 443.7L615.1 444.9L615.7 442.4L616.3 443.7L616.9 442.4L617.4 444.9L618.0 443.7L618.6 444.9L619.2 443.7L619.8 447.5L620.4 446.2L621.0 447.5L621.6 446.2L622.2 448.8L622.8 447.5L623.4 450.1L624.0 447.5L624.6 450.1L625.2 447.5L625.8 447.5L626.4 446.2L626.9 447.5L627.5 444.9L628.1 446.2L628.7 444.9L629.3 446.2L629.9 444.9L630.5 450.1L631.1 448.8L631.7 450.1L632.3 450.1L632.9 452.7L633.5 451.4L634.1 452.7L634.7 451.4L635.3 452.7L635.9 451.4L636.4 452.7L637.0 450.1L637.6 451.4L638.2 448.8L638.8 451.4L639.4 448.8L640.0 450.1L640.6 448.8L641.2 452.7L641.8 450.1L642.4 453.9L643.0 451.4L643.6 455.2L644.2 453.9L644.8 456.5L645.4 453.9L646.0 455.2L646.5 453.9L647.1 456.5L647.7 457.8L648.3 456.5L648.9 455.2L649.5 457.8L650.1 455.2L650.7 455.2L651.3 457.8L651.9 457.8L652.5 455.2L653.1 456.5L653.7 453.9L654.3 456.5L654.9 453.9L655.5 455.2L656.0 456.5L656.6 455.2L657.2 453.9L657.8 455.2L658.4 452.7L659.0 453.9L659.6 453.9L660.2 453.9L660.8 452.7L661.4 452.7L662.0 451.4L662.6 452.7L663.2 451.4L663.8 451.4L664.4 450.1L665.0 452.7L665.5 450.1L666.1 452.7L666.7 453.9L667.3 453.9L667.9 452.7L668.5 453.9L669.1 453.9L669.7 455.2L670.3 453.9L670.9 456.5L671.5 453.9L672.1 455.2L672.7 451.4L673.3 453.9L673.9 452.7L674.5 452.7L675.0 451.4L675.6 452.7L676.2 448.8L676.8 451.4L677.4 451.4L678.0 451.4L678.6 450.1L679.2 448.8L679.8 451.4L680.4 451.4L681.0 450.1L681.6 451.4L682.2 450.1L682.8 448.8L683.4 450.1L684.0 451.4L684.6 450.1L685.1 452.7L685.7 452.7L686.3 453.9L686.9 455.2L687.5 455.2L688.1 453.9L688.7 456.5L689.3 455.2L689.9 456.5L690.5 457.8L691.1 460.4L691.7 457.8L692.3 461.6L692.9 459.1L693.5 461.6L694.1 460.4L694.6 461.6L695.2 459.1L695.8 461.6L696.4 459.1L697.0 461.6L697.6 460.4L698.2 461.6L698.8 460.4L699.4 461.6L700.0 460.4L700.6 464.2L701.2 462.9L701.8 462.9L702.4 462.9L703.0 464.2L703.6 465.5L704.1 465.5L704.7 464.2L705.3 464.2L705.9 461.6L706.5 464.2L707.1 460.4L707.7 462.9L708.3 460.4L708.9 461.6L709.5 460.4L710.1 460.4L710.7 457.8L711.3 457.8L711.9 455.2L712.5 456.5L713.1 452.7L713.6 453.9L714.2 452.7L714.8 452.7L715.4 451.4L716.0 455.2L716.6 451.4L717.2 455.2L717.8 452.7L718.4 455.2L719.0 452.7L719.6 453.9L720.2 451.4L720.8 452.7L721.4 451.4L722.0 452.7L722.6 450.1L723.1 451.4L723.7 448.8L724.3 451.4L724.9 448.8L725.5 450.1L726.1 448.8L726.7 448.8L727.3 447.5L727.9 450.1L728.5 448.8L729.1 450.1L729.7 451.4L730.3 455.2L730.9 453.9L731.5 456.5L732.1 456.5L732.7 460.4L733.2 457.8L733.8 461.6L734.4 460.4L735.0 462.9L735.6 462.9L736.2 464.2L736.8 464.2L737.4 465.5L738.0 466.8L738.6 465.5L739.2 462.9L739.8 465.5L740.4 462.9L741.0 462.9L741.6 461.6L742.2 462.9L742.7 459.1L743.3 460.4L743.9 459.1L744.5 459.1L745.1 459.1L745.7 457.8L746.3 456.5L746.9 460.4L747.5 460.4L748.1 462.9L748.7 462.9L749.3 465.5L749.9 462.9L750.5 464.2L751.1 461.6L751.7 461.6L752.2 459.1L752.8 459.1L753.4 456.5L754.0 459.1L754.6 455.2L755.2 456.5L755.8 453.9L756.4 455.2L757.0 452.7L757.6 453.9L758.2 451.4L758.8 453.9L759.4 450.1L760.0 451.4L760.6 448.8" fill="none" stroke="#d64570" stroke-width="3" stroke-linejoin="round" stroke-linecap="round"/>
<g fill="#d64570"><circle cx="159.0" cy="456.5" r="3.7"/><circle cx="159.6" cy="452.7" r="3.7"/><circle cx="160.2" cy="453.9" r="3.7"/><circle cx="160.8" cy="451.4" r="3.7"/><circle cx="161.4" cy="452.7" r="3.7"/><circle cx="162.0" cy="450.1" r="3.7"/><circle cx="162.6" cy="452.7" r="3.7"/><circle cx="163.2" cy="452.7" r="3.7"/><circle cx="163.8" cy="456.5" r="3.7"/><circle cx="164.3" cy="455.2" r="3.7"/><circle cx="164.9" cy="456.5" r="3.7"/><circle cx="165.5" cy="456.5" r="3.7"/><circle cx="166.1" cy="457.8" r="3.7"/><circle cx="166.7" cy="459.1" r="3.7"/><circle cx="167.3" cy="460.4" r="3.7"/><circle cx="167.9" cy="459.1" r="3.7"/><circle cx="168.5" cy="459.1" r="3.7"/><circle cx="169.1" cy="456.5" r="3.7"/><circle cx="169.7" cy="457.8" r="3.7"/><circle cx="170.3" cy="455.2" r="3.7"/><circle cx="170.9" cy="453.9" r="3.7"/><circle cx="171.5" cy="455.2" r="3.7"/><circle cx="172.1" cy="455.2" r="3.7"/><circle cx="172.7" cy="452.7" r="3.7"/><circle cx="173.3" cy="455.2" r="3.7"/><circle cx="173.8" cy="453.9" r="3.7"/><circle cx="174.4" cy="453.9" r="3.7"/><circle cx="175.0" cy="453.9" r="3.7"/><circle cx="175.6" cy="455.2" r="3.7"/><circle cx="176.2" cy="452.7" r="3.7"/><circle cx="176.8" cy="455.2" r="3.7"/><circle cx="177.4" cy="452.7" r="3.7"/><circle cx="178.0" cy="455.2" r="3.7"/><circle cx="178.6" cy="452.7" r="3.7"/><circle cx="179.2" cy="455.2" r="3.7"/><circle cx="179.8" cy="453.9" r="3.7"/><circle cx="180.4" cy="459.1" r="3.7"/><circle cx="181.0" cy="456.5" r="3.7"/><circle cx="181.6" cy="459.1" r="3.7"/><circle cx="182.2" cy="461.6" r="3.7"/><circle cx="182.8" cy="462.9" r="3.7"/><circle cx="183.3" cy="464.2" r="3.7"/><circle cx="183.9" cy="465.5" r="3.7"/><circle cx="184.5" cy="462.9" r="3.7"/><circle cx="185.1" cy="462.9" r="3.7"/><circle cx="185.7" cy="460.4" r="3.7"/><circle cx="186.3" cy="462.9" r="3.7"/><circle cx="186.9" cy="461.6" r="3.7"/><circle cx="187.5" cy="462.9" r="3.7"/><circle cx="188.1" cy="464.2" r="3.7"/><circle cx="188.7" cy="464.2" r="3.7"/><circle cx="189.3" cy="462.9" r="3.7"/><circle cx="189.9" cy="466.8" r="3.7"/><circle cx="190.5" cy="466.8" r="3.7"/><circle cx="191.1" cy="469.3" r="3.7"/><circle cx="191.7" cy="468.1" r="3.7"/><circle cx="192.3" cy="470.6" r="3.7"/><circle cx="192.8" cy="468.1" r="3.7"/><circle cx="193.4" cy="468.1" r="3.7"/><circle cx="194.0" cy="466.8" r="3.7"/><circle cx="194.6" cy="469.3" r="3.7"/><circle cx="195.2" cy="466.8" r="3.7"/><circle cx="195.8" cy="468.1" r="3.7"/><circle cx="196.4" cy="465.5" r="3.7"/><circle cx="197.0" cy="469.3" r="3.7"/><circle cx="197.6" cy="468.1" r="3.7"/><circle cx="198.2" cy="471.9" r="3.7"/><circle cx="198.8" cy="471.9" r="3.7"/><circle cx="199.4" cy="474.5" r="3.7"/><circle cx="200.0" cy="475.8" r="3.7"/><circle cx="200.6" cy="479.6" r="3.7"/><circle cx="201.2" cy="478.3" r="3.7"/><circle cx="201.8" cy="479.6" r="3.7"/><circle cx="202.4" cy="475.8" r="3.7"/><circle cx="202.9" cy="477.0" r="3.7"/><circle cx="203.5" cy="478.3" r="3.7"/><circle cx="204.1" cy="477.0" r="3.7"/><circle cx="204.7" cy="475.8" r="3.7"/><circle cx="205.3" cy="477.0" r="3.7"/><circle cx="205.9" cy="474.5" r="3.7"/><circle cx="206.5" cy="475.8" r="3.7"/><circle cx="207.1" cy="470.6" r="3.7"/><circle cx="207.7" cy="469.3" r="3.7"/><circle cx="208.3" cy="464.2" r="3.7"/><circle cx="208.9" cy="464.2" r="3.7"/><circle cx="209.5" cy="460.4" r="3.7"/><circle cx="210.1" cy="461.6" r="3.7"/><circle cx="210.7" cy="460.4" r="3.7"/><circle cx="211.3" cy="461.6" r="3.7"/><circle cx="211.9" cy="461.6" r="3.7"/><circle cx="212.4" cy="464.2" r="3.7"/><circle cx="213.0" cy="461.6" r="3.7"/><circle cx="213.6" cy="465.5" r="3.7"/><circle cx="214.2" cy="462.9" r="3.7"/><circle cx="214.8" cy="465.5" r="3.7"/><circle cx="215.4" cy="461.6" r="3.7"/><circle cx="216.0" cy="461.6" r="3.7"/><circle cx="216.6" cy="461.6" r="3.7"/><circle cx="217.2" cy="461.6" r="3.7"/><circle cx="217.8" cy="457.8" r="3.7"/><circle cx="218.4" cy="459.1" r="3.7"/><circle cx="219.0" cy="456.5" r="3.7"/><circle cx="219.6" cy="460.4" r="3.7"/><circle cx="220.2" cy="457.8" r="3.7"/><circle cx="220.8" cy="460.4" r="3.7"/><circle cx="221.4" cy="460.4" r="3.7"/><circle cx="221.9" cy="461.6" r="3.7"/><circle cx="222.5" cy="461.6" r="3.7"/><circle cx="223.1" cy="462.9" r="3.7"/><circle cx="223.7" cy="462.9" r="3.7"/><circle cx="224.3" cy="464.2" r="3.7"/><circle cx="224.9" cy="464.2" r="3.7"/><circle cx="225.5" cy="466.8" r="3.7"/><circle cx="226.1" cy="462.9" r="3.7"/><circle cx="226.7" cy="465.5" r="3.7"/><circle cx="227.3" cy="462.9" r="3.7"/><circle cx="227.9" cy="464.2" r="3.7"/><circle cx="228.5" cy="461.6" r="3.7"/><circle cx="229.1" cy="462.9" r="3.7"/><circle cx="229.7" cy="461.6" r="3.7"/><circle cx="230.3" cy="461.6" r="3.7"/><circle cx="230.9" cy="460.4" r="3.7"/><circle cx="231.4" cy="461.6" r="3.7"/><circle cx="232.0" cy="460.4" r="3.7"/><circle cx="232.6" cy="461.6" r="3.7"/><circle cx="233.2" cy="459.1" r="3.7"/><circle cx="233.8" cy="459.1" r="3.7"/><circle cx="234.4" cy="457.8" r="3.7"/><circle cx="235.0" cy="457.8" r="3.7"/><circle cx="235.6" cy="453.9" r="3.7"/><circle cx="236.2" cy="455.2" r="3.7"/><circle cx="236.8" cy="453.9" r="3.7"/><circle cx="237.4" cy="452.7" r="3.7"/><circle cx="238.0" cy="452.7" r="3.7"/><circle cx="238.6" cy="452.7" r="3.7"/><circle cx="239.2" cy="451.4" r="3.7"/><circle cx="239.8" cy="452.7" r="3.7"/><circle cx="240.4" cy="452.7" r="3.7"/><circle cx="241.0" cy="455.2" r="3.7"/><circle cx="241.5" cy="455.2" r="3.7"/><circle cx="242.1" cy="456.5" r="3.7"/><circle cx="242.7" cy="453.9" r="3.7"/><circle cx="243.3" cy="455.2" r="3.7"/><circle cx="243.9" cy="452.7" r="3.7"/><circle cx="244.5" cy="452.7" r="3.7"/><circle cx="245.1" cy="451.4" r="3.7"/><circle cx="245.7" cy="452.7" r="3.7"/><circle cx="246.3" cy="450.1" r="3.7"/><circle cx="246.9" cy="451.4" r="3.7"/><circle cx="247.5" cy="451.4" r="3.7"/><circle cx="248.1" cy="451.4" r="3.7"/><circle cx="248.7" cy="455.2" r="3.7"/><circle cx="249.3" cy="455.2" r="3.7"/><circle cx="249.9" cy="455.2" r="3.7"/><circle cx="250.5" cy="459.1" r="3.7"/><circle cx="251.0" cy="461.6" r="3.7"/><circle cx="251.6" cy="460.4" r="3.7"/><circle cx="252.2" cy="457.8" r="3.7"/><circle cx="252.8" cy="457.8" r="3.7"/><circle cx="253.4" cy="457.8" r="3.7"/><circle cx="254.0" cy="456.5" r="3.7"/><circle cx="254.6" cy="453.9" r="3.7"/><circle cx="255.2" cy="456.5" r="3.7"/><circle cx="255.8" cy="452.7" r="3.7"/><circle cx="256.4" cy="451.4" r="3.7"/><circle cx="257.0" cy="451.4" r="3.7"/><circle cx="257.6" cy="451.4" r="3.7"/><circle cx="258.2" cy="450.1" r="3.7"/><circle cx="258.8" cy="448.8" r="3.7"/><circle cx="259.4" cy="450.1" r="3.7"/><circle cx="260.0" cy="450.1" r="3.7"/><circle cx="260.5" cy="448.8" r="3.7"/><circle cx="261.1" cy="450.1" r="3.7"/><circle cx="261.7" cy="447.5" r="3.7"/><circle cx="262.3" cy="450.1" r="3.7"/><circle cx="262.9" cy="446.2" r="3.7"/><circle cx="263.5" cy="448.8" r="3.7"/><circle cx="264.1" cy="447.5" r="3.7"/><circle cx="264.7" cy="447.5" r="3.7"/><circle cx="265.3" cy="451.4" r="3.7"/><circle cx="265.9" cy="451.4" r="3.7"/><circle cx="266.5" cy="448.8" r="3.7"/><circle cx="267.1" cy="451.4" r="3.7"/><circle cx="267.7" cy="447.5" r="3.7"/><circle cx="268.3" cy="448.8" r="3.7"/><circle cx="268.9" cy="443.7" r="3.7"/><circle cx="269.5" cy="446.2" r="3.7"/><circle cx="270.0" cy="442.4" r="3.7"/><circle cx="270.6" cy="442.4" r="3.7"/><circle cx="271.2" cy="442.4" r="3.7"/><circle cx="271.8" cy="441.1" r="3.7"/><circle cx="272.4" cy="438.5" r="3.7"/><circle cx="273.0" cy="439.8" r="3.7"/><circle cx="273.6" cy="436.0" r="3.7"/><circle cx="274.2" cy="437.2" r="3.7"/><circle cx="274.8" cy="436.0" r="3.7"/><circle cx="275.4" cy="436.0" r="3.7"/><circle cx="276.0" cy="434.7" r="3.7"/><circle cx="276.6" cy="437.2" r="3.7"/><circle cx="277.2" cy="437.2" r="3.7"/><circle cx="277.8" cy="438.5" r="3.7"/><circle cx="278.4" cy="436.0" r="3.7"/><circle cx="279.0" cy="438.5" r="3.7"/><circle cx="279.5" cy="438.5" r="3.7"/><circle cx="280.1" cy="439.8" r="3.7"/><circle cx="280.7" cy="439.8" r="3.7"/><circle cx="281.3" cy="442.4" r="3.7"/><circle cx="281.9" cy="439.8" r="3.7"/><circle cx="282.5" cy="442.4" r="3.7"/><circle cx="283.1" cy="438.5" r="3.7"/><circle cx="283.7" cy="441.1" r="3.7"/><circle cx="284.3" cy="437.2" r="3.7"/><circle cx="284.9" cy="439.8" r="3.7"/><circle cx="285.5" cy="437.2" r="3.7"/><circle cx="286.1" cy="438.5" r="3.7"/><circle cx="286.7" cy="434.7" r="3.7"/><circle cx="287.3" cy="438.5" r="3.7"/><circle cx="287.9" cy="437.2" r="3.7"/><circle cx="288.5" cy="441.1" r="3.7"/><circle cx="289.1" cy="438.5" r="3.7"/><circle cx="289.6" cy="443.7" r="3.7"/><circle cx="290.2" cy="441.1" r="3.7"/><circle cx="290.8" cy="446.2" r="3.7"/><circle cx="291.4" cy="444.9" r="3.7"/><circle cx="292.0" cy="446.2" r="3.7"/><circle cx="292.6" cy="444.9" r="3.7"/><circle cx="293.2" cy="444.9" r="3.7"/><circle cx="293.8" cy="443.7" r="3.7"/><circle cx="294.4" cy="444.9" r="3.7"/><circle cx="295.0" cy="442.4" r="3.7"/><circle cx="295.6" cy="443.7" r="3.7"/><circle cx="296.2" cy="443.7" r="3.7"/><circle cx="296.8" cy="443.7" r="3.7"/><circle cx="297.4" cy="446.2" r="3.7"/><circle cx="298.0" cy="451.4" r="3.7"/><circle cx="298.6" cy="450.1" r="3.7"/><circle cx="299.1" cy="452.7" r="3.7"/><circle cx="299.7" cy="447.5" r="3.7"/><circle cx="300.3" cy="447.5" r="3.7"/><circle cx="300.9" cy="450.1" r="3.7"/><circle cx="301.5" cy="447.5" r="3.7"/><circle cx="302.1" cy="447.5" r="3.7"/><circle cx="302.7" cy="446.2" r="3.7"/><circle cx="303.3" cy="447.5" r="3.7"/><circle cx="303.9" cy="447.5" r="3.7"/><circle cx="304.5" cy="447.5" r="3.7"/><circle cx="305.1" cy="448.8" r="3.7"/><circle cx="305.7" cy="447.5" r="3.7"/><circle cx="306.3" cy="448.8" r="3.7"/><circle cx="306.9" cy="446.2" r="3.7"/><circle cx="307.5" cy="447.5" r="3.7"/><circle cx="308.1" cy="447.5" r="3.7"/><circle cx="308.6" cy="447.5" r="3.7"/><circle cx="309.2" cy="447.5" r="3.7"/><circle cx="309.8" cy="446.2" r="3.7"/><circle cx="310.4" cy="444.9" r="3.7"/><circle cx="311.0" cy="443.7" r="3.7"/><circle cx="311.6" cy="442.4" r="3.7"/><circle cx="312.2" cy="441.1" r="3.7"/><circle cx="312.8" cy="438.5" r="3.7"/><circle cx="313.4" cy="439.8" r="3.7"/><circle cx="314.0" cy="439.8" r="3.7"/><circle cx="314.6" cy="441.1" r="3.7"/><circle cx="315.2" cy="441.1" r="3.7"/><circle cx="315.8" cy="441.1" r="3.7"/><circle cx="316.4" cy="439.8" r="3.7"/><circle cx="317.0" cy="443.7" r="3.7"/><circle cx="317.6" cy="442.4" r="3.7"/><circle cx="318.1" cy="443.7" r="3.7"/><circle cx="318.7" cy="443.7" r="3.7"/><circle cx="319.3" cy="443.7" r="3.7"/><circle cx="319.9" cy="446.2" r="3.7"/><circle cx="320.5" cy="448.8" r="3.7"/><circle cx="321.1" cy="451.4" r="3.7"/><circle cx="321.7" cy="452.7" r="3.7"/><circle cx="322.3" cy="451.4" r="3.7"/><circle cx="322.9" cy="455.2" r="3.7"/><circle cx="323.5" cy="455.2" r="3.7"/><circle cx="324.1" cy="457.8" r="3.7"/><circle cx="324.7" cy="457.8" r="3.7"/><circle cx="325.3" cy="460.4" r="3.7"/><circle cx="325.9" cy="456.5" r="3.7"/><circle cx="326.5" cy="459.1" r="3.7"/><circle cx="327.1" cy="456.5" r="3.7"/><circle cx="327.7" cy="456.5" r="3.7"/><circle cx="328.2" cy="455.2" r="3.7"/><circle cx="328.8" cy="452.7" r="3.7"/><circle cx="329.4" cy="451.4" r="3.7"/><circle cx="330.0" cy="452.7" r="3.7"/><circle cx="330.6" cy="452.7" r="3.7"/><circle cx="331.2" cy="453.9" r="3.7"/><circle cx="331.8" cy="455.2" r="3.7"/><circle cx="332.4" cy="457.8" r="3.7"/><circle cx="333.0" cy="456.5" r="3.7"/><circle cx="333.6" cy="460.4" r="3.7"/><circle cx="334.2" cy="459.1" r="3.7"/><circle cx="334.8" cy="462.9" r="3.7"/><circle cx="335.4" cy="460.4" r="3.7"/><circle cx="336.0" cy="462.9" r="3.7"/><circle cx="336.6" cy="461.6" r="3.7"/><circle cx="337.2" cy="464.2" r="3.7"/><circle cx="337.7" cy="462.9" r="3.7"/><circle cx="338.3" cy="465.5" r="3.7"/><circle cx="338.9" cy="465.5" r="3.7"/><circle cx="339.5" cy="464.2" r="3.7"/><circle cx="340.1" cy="460.4" r="3.7"/><circle cx="340.7" cy="457.8" r="3.7"/><circle cx="341.3" cy="452.7" r="3.7"/><circle cx="341.9" cy="453.9" r="3.7"/><circle cx="342.5" cy="452.7" r="3.7"/><circle cx="343.1" cy="453.9" r="3.7"/><circle cx="343.7" cy="453.9" r="3.7"/><circle cx="344.3" cy="455.2" r="3.7"/><circle cx="344.9" cy="455.2" r="3.7"/><circle cx="345.5" cy="457.8" r="3.7"/><circle cx="346.1" cy="457.8" r="3.7"/><circle cx="346.7" cy="456.5" r="3.7"/><circle cx="347.2" cy="453.9" r="3.7"/><circle cx="347.8" cy="455.2" r="3.7"/><circle cx="348.4" cy="450.1" r="3.7"/><circle cx="349.0" cy="448.8" r="3.7"/><circle cx="349.6" cy="448.8" r="3.7"/><circle cx="350.2" cy="452.7" r="3.7"/><circle cx="350.8" cy="450.1" r="3.7"/><circle cx="351.4" cy="452.7" r="3.7"/><circle cx="352.0" cy="450.1" r="3.7"/><circle cx="352.6" cy="452.7" r="3.7"/><circle cx="353.2" cy="453.9" r="3.7"/><circle cx="353.8" cy="452.7" r="3.7"/><circle cx="354.4" cy="450.1" r="3.7"/><circle cx="355.0" cy="448.8" r="3.7"/><circle cx="355.6" cy="447.5" r="3.7"/><circle cx="356.2" cy="448.8" r="3.7"/><circle cx="356.7" cy="444.9" r="3.7"/><circle cx="357.3" cy="443.7" r="3.7"/><circle cx="357.9" cy="444.9" r="3.7"/><circle cx="358.5" cy="443.7" r="3.7"/><circle cx="359.1" cy="443.7" r="3.7"/><circle cx="359.7" cy="444.9" r="3.7"/><circle cx="360.3" cy="444.9" r="3.7"/><circle cx="360.9" cy="444.9" r="3.7"/><circle cx="361.5" cy="444.9" r="3.7"/><circle cx="362.1" cy="443.7" r="3.7"/><circle cx="362.7" cy="441.1" r="3.7"/><circle cx="363.3" cy="443.7" r="3.7"/><circle cx="363.9" cy="443.7" r="3.7"/><circle cx="364.5" cy="443.7" r="3.7"/><circle cx="365.1" cy="442.4" r="3.7"/><circle cx="365.7" cy="443.7" r="3.7"/><circle cx="366.3" cy="443.7" r="3.7"/><circle cx="366.8" cy="446.2" r="3.7"/><circle cx="367.4" cy="444.9" r="3.7"/><circle cx="368.0" cy="446.2" r="3.7"/><circle cx="368.6" cy="444.9" r="3.7"/><circle cx="369.2" cy="444.9" r="3.7"/><circle cx="369.8" cy="446.2" r="3.7"/><circle cx="370.4" cy="447.5" r="3.7"/><circle cx="371.0" cy="446.2" r="3.7"/><circle cx="371.6" cy="447.5" r="3.7"/><circle cx="372.2" cy="446.2" r="3.7"/><circle cx="372.8" cy="446.2" r="3.7"/><circle cx="373.4" cy="444.9" r="3.7"/><circle cx="374.0" cy="444.9" r="3.7"/><circle cx="374.6" cy="442.4" r="3.7"/><circle cx="375.2" cy="443.7" r="3.7"/><circle cx="375.8" cy="442.4" r="3.7"/><circle cx="376.3" cy="443.7" r="3.7"/><circle cx="376.9" cy="441.1" r="3.7"/><circle cx="377.5" cy="442.4" r="3.7"/><circle cx="378.1" cy="441.1" r="3.7"/><circle cx="378.7" cy="442.4" r="3.7"/><circle cx="379.3" cy="443.7" r="3.7"/><circle cx="379.9" cy="442.4" r="3.7"/><circle cx="380.5" cy="442.4" r="3.7"/><circle cx="381.1" cy="443.7" r="3.7"/><circle cx="381.7" cy="442.4" r="3.7"/><circle cx="382.3" cy="443.7" r="3.7"/><circle cx="382.9" cy="439.8" r="3.7"/><circle cx="383.5" cy="441.1" r="3.7"/><circle cx="384.1" cy="438.5" r="3.7"/><circle cx="384.7" cy="439.8" r="3.7"/><circle cx="385.3" cy="441.1" r="3.7"/><circle cx="385.8" cy="441.1" r="3.7"/><circle cx="386.4" cy="438.5" r="3.7"/><circle cx="387.0" cy="441.1" r="3.7"/><circle cx="387.6" cy="441.1" r="3.7"/><circle cx="388.2" cy="443.7" r="3.7"/><circle cx="388.8" cy="442.4" r="3.7"/><circle cx="389.4" cy="444.9" r="3.7"/><circle cx="390.0" cy="443.7" r="3.7"/><circle cx="390.6" cy="450.1" r="3.7"/><circle cx="391.2" cy="452.7" r="3.7"/><circle cx="391.8" cy="456.5" r="3.7"/><circle cx="392.4" cy="457.8" r="3.7"/><circle cx="393.0" cy="460.4" r="3.7"/><circle cx="393.6" cy="457.8" r="3.7"/><circle cx="394.2" cy="461.6" r="3.7"/><circle cx="394.8" cy="459.1" r="3.7"/><circle cx="395.3" cy="462.9" r="3.7"/><circle cx="395.9" cy="459.1" r="3.7"/><circle cx="396.5" cy="460.4" r="3.7"/><circle cx="397.1" cy="461.6" r="3.7"/><circle cx="397.7" cy="462.9" r="3.7"/><circle cx="398.3" cy="461.6" r="3.7"/><circle cx="398.9" cy="464.2" r="3.7"/><circle cx="399.5" cy="461.6" r="3.7"/><circle cx="400.1" cy="464.2" r="3.7"/><circle cx="400.7" cy="461.6" r="3.7"/><circle cx="401.3" cy="462.9" r="3.7"/><circle cx="401.9" cy="460.4" r="3.7"/><circle cx="402.5" cy="461.6" r="3.7"/><circle cx="403.1" cy="461.6" r="3.7"/><circle cx="403.7" cy="461.6" r="3.7"/><circle cx="404.3" cy="459.1" r="3.7"/><circle cx="404.9" cy="460.4" r="3.7"/><circle cx="405.4" cy="457.8" r="3.7"/><circle cx="406.0" cy="457.8" r="3.7"/><circle cx="406.6" cy="456.5" r="3.7"/><circle cx="407.2" cy="455.2" r="3.7"/><circle cx="407.8" cy="451.4" r="3.7"/><circle cx="408.4" cy="450.1" r="3.7"/><circle cx="409.0" cy="446.2" r="3.7"/><circle cx="409.6" cy="446.2" r="3.7"/><circle cx="410.2" cy="443.7" r="3.7"/><circle cx="410.8" cy="444.9" r="3.7"/><circle cx="411.4" cy="444.9" r="3.7"/><circle cx="412.0" cy="446.2" r="3.7"/><circle cx="412.6" cy="446.2" r="3.7"/><circle cx="413.2" cy="447.5" r="3.7"/><circle cx="413.8" cy="448.8" r="3.7"/><circle cx="414.4" cy="451.4" r="3.7"/><circle cx="414.9" cy="450.1" r="3.7"/><circle cx="415.5" cy="453.9" r="3.7"/><circle cx="416.1" cy="452.7" r="3.7"/><circle cx="416.7" cy="455.2" r="3.7"/><circle cx="417.3" cy="456.5" r="3.7"/><circle cx="417.9" cy="457.8" r="3.7"/><circle cx="418.5" cy="457.8" r="3.7"/><circle cx="419.1" cy="460.4" r="3.7"/><circle cx="419.7" cy="460.4" r="3.7"/><circle cx="420.3" cy="462.9" r="3.7"/><circle cx="420.9" cy="461.6" r="3.7"/><circle cx="421.5" cy="461.6" r="3.7"/><circle cx="422.1" cy="460.4" r="3.7"/><circle cx="422.7" cy="462.9" r="3.7"/><circle cx="423.3" cy="460.4" r="3.7"/><circle cx="423.9" cy="460.4" r="3.7"/><circle cx="424.4" cy="457.8" r="3.7"/><circle cx="425.0" cy="457.8" r="3.7"/><circle cx="425.6" cy="457.8" r="3.7"/><circle cx="426.2" cy="456.5" r="3.7"/><circle cx="426.8" cy="456.5" r="3.7"/><circle cx="427.4" cy="455.2" r="3.7"/><circle cx="428.0" cy="455.2" r="3.7"/><circle cx="428.6" cy="456.5" r="3.7"/><circle cx="429.2" cy="455.2" r="3.7"/><circle cx="429.8" cy="456.5" r="3.7"/><circle cx="430.4" cy="456.5" r="3.7"/><circle cx="431.0" cy="457.8" r="3.7"/><circle cx="431.6" cy="457.8" r="3.7"/><circle cx="432.2" cy="456.5" r="3.7"/><circle cx="432.8" cy="456.5" r="3.7"/><circle cx="433.4" cy="457.8" r="3.7"/><circle cx="433.9" cy="455.2" r="3.7"/><circle cx="434.5" cy="456.5" r="3.7"/><circle cx="435.1" cy="452.7" r="3.7"/><circle cx="435.7" cy="455.2" r="3.7"/><circle cx="436.3" cy="452.7" r="3.7"/><circle cx="436.9" cy="453.9" r="3.7"/><circle cx="437.5" cy="450.1" r="3.7"/><circle cx="438.1" cy="453.9" r="3.7"/><circle cx="438.7" cy="452.7" r="3.7"/><circle cx="439.3" cy="453.9" r="3.7"/><circle cx="439.9" cy="452.7" r="3.7"/><circle cx="440.5" cy="452.7" r="3.7"/><circle cx="441.1" cy="453.9" r="3.7"/><circle cx="441.7" cy="457.8" r="3.7"/><circle cx="442.3" cy="456.5" r="3.7"/><circle cx="442.9" cy="460.4" r="3.7"/><circle cx="443.5" cy="459.1" r="3.7"/><circle cx="444.0" cy="462.9" r="3.7"/><circle cx="444.6" cy="462.9" r="3.7"/><circle cx="445.2" cy="465.5" r="3.7"/><circle cx="445.8" cy="462.9" r="3.7"/><circle cx="446.4" cy="462.9" r="3.7"/><circle cx="447.0" cy="462.9" r="3.7"/><circle cx="447.6" cy="462.9" r="3.7"/><circle cx="448.2" cy="462.9" r="3.7"/><circle cx="448.8" cy="461.6" r="3.7"/><circle cx="449.4" cy="460.4" r="3.7"/><circle cx="450.0" cy="460.4" r="3.7"/><circle cx="450.6" cy="457.8" r="3.7"/><circle cx="451.2" cy="460.4" r="3.7"/><circle cx="451.8" cy="459.1" r="3.7"/><circle cx="452.4" cy="461.6" r="3.7"/><circle cx="453.0" cy="460.4" r="3.7"/><circle cx="453.5" cy="461.6" r="3.7"/><circle cx="454.1" cy="460.4" r="3.7"/><circle cx="454.7" cy="462.9" r="3.7"/><circle cx="455.3" cy="461.6" r="3.7"/><circle cx="455.9" cy="464.2" r="3.7"/><circle cx="456.5" cy="459.1" r="3.7"/><circle cx="457.1" cy="460.4" r="3.7"/><circle cx="457.7" cy="460.4" r="3.7"/><circle cx="458.3" cy="456.5" r="3.7"/><circle cx="458.9" cy="455.2" r="3.7"/><circle cx="459.5" cy="457.8" r="3.7"/><circle cx="460.1" cy="455.2" r="3.7"/><circle cx="460.7" cy="457.8" r="3.7"/><circle cx="461.3" cy="456.5" r="3.7"/><circle cx="461.9" cy="460.4" r="3.7"/><circle cx="462.5" cy="457.8" r="3.7"/><circle cx="463.0" cy="461.6" r="3.7"/><circle cx="463.6" cy="460.4" r="3.7"/><circle cx="464.2" cy="461.6" r="3.7"/><circle cx="464.8" cy="459.1" r="3.7"/><circle cx="465.4" cy="460.4" r="3.7"/><circle cx="466.0" cy="457.8" r="3.7"/><circle cx="466.6" cy="459.1" r="3.7"/><circle cx="467.2" cy="456.5" r="3.7"/><circle cx="467.8" cy="457.8" r="3.7"/><circle cx="468.4" cy="456.5" r="3.7"/><circle cx="469.0" cy="457.8" r="3.7"/><circle cx="469.6" cy="455.2" r="3.7"/><circle cx="470.2" cy="455.2" r="3.7"/><circle cx="470.8" cy="453.9" r="3.7"/><circle cx="471.4" cy="453.9" r="3.7"/><circle cx="472.0" cy="452.7" r="3.7"/><circle cx="472.5" cy="455.2" r="3.7"/><circle cx="473.1" cy="451.4" r="3.7"/><circle cx="473.7" cy="453.9" r="3.7"/><circle cx="474.3" cy="450.1" r="3.7"/><circle cx="474.9" cy="452.7" r="3.7"/><circle cx="475.5" cy="450.1" r="3.7"/><circle cx="476.1" cy="452.7" r="3.7"/><circle cx="476.7" cy="451.4" r="3.7"/><circle cx="477.3" cy="453.9" r="3.7"/><circle cx="477.9" cy="452.7" r="3.7"/><circle cx="478.5" cy="453.9" r="3.7"/><circle cx="479.1" cy="453.9" r="3.7"/><circle cx="479.7" cy="456.5" r="3.7"/><circle cx="480.3" cy="455.2" r="3.7"/><circle cx="480.9" cy="456.5" r="3.7"/><circle cx="481.5" cy="455.2" r="3.7"/><circle cx="482.1" cy="456.5" r="3.7"/><circle cx="482.6" cy="456.5" r="3.7"/><circle cx="483.2" cy="457.8" r="3.7"/><circle cx="483.8" cy="456.5" r="3.7"/><circle cx="484.4" cy="455.2" r="3.7"/><circle cx="485.0" cy="455.2" r="3.7"/><circle cx="485.6" cy="455.2" r="3.7"/><circle cx="486.2" cy="452.7" r="3.7"/><circle cx="486.8" cy="453.9" r="3.7"/><circle cx="487.4" cy="451.4" r="3.7"/><circle cx="488.0" cy="453.9" r="3.7"/><circle cx="488.6" cy="452.7" r="3.7"/><circle cx="489.2" cy="455.2" r="3.7"/><circle cx="489.8" cy="455.2" r="3.7"/><circle cx="490.4" cy="457.8" r="3.7"/><circle cx="491.0" cy="456.5" r="3.7"/><circle cx="491.6" cy="457.8" r="3.7"/><circle cx="492.1" cy="455.2" r="3.7"/><circle cx="492.7" cy="457.8" r="3.7"/><circle cx="493.3" cy="455.2" r="3.7"/><circle cx="493.9" cy="453.9" r="3.7"/><circle cx="494.5" cy="455.2" r="3.7"/><circle cx="495.1" cy="455.2" r="3.7"/><circle cx="495.7" cy="455.2" r="3.7"/><circle cx="496.3" cy="452.7" r="3.7"/><circle cx="496.9" cy="450.1" r="3.7"/><circle cx="497.5" cy="452.7" r="3.7"/><circle cx="498.1" cy="451.4" r="3.7"/><circle cx="498.7" cy="450.1" r="3.7"/><circle cx="499.3" cy="448.8" r="3.7"/><circle cx="499.9" cy="450.1" r="3.7"/><circle cx="500.5" cy="450.1" r="3.7"/><circle cx="501.1" cy="453.9" r="3.7"/><circle cx="501.6" cy="452.7" r="3.7"/><circle cx="502.2" cy="453.9" r="3.7"/><circle cx="502.8" cy="453.9" r="3.7"/><circle cx="503.4" cy="455.2" r="3.7"/><circle cx="504.0" cy="455.2" r="3.7"/><circle cx="504.6" cy="455.2" r="3.7"/><circle cx="505.2" cy="451.4" r="3.7"/><circle cx="505.8" cy="452.7" r="3.7"/><circle cx="506.4" cy="450.1" r="3.7"/><circle cx="507.0" cy="447.5" r="3.7"/><circle cx="507.6" cy="448.8" r="3.7"/><circle cx="508.2" cy="448.8" r="3.7"/><circle cx="508.8" cy="447.5" r="3.7"/><circle cx="509.4" cy="450.1" r="3.7"/><circle cx="510.0" cy="448.8" r="3.7"/><circle cx="510.6" cy="452.7" r="3.7"/><circle cx="511.1" cy="452.7" r="3.7"/><circle cx="511.7" cy="453.9" r="3.7"/><circle cx="512.3" cy="455.2" r="3.7"/><circle cx="512.9" cy="456.5" r="3.7"/><circle cx="513.5" cy="456.5" r="3.7"/><circle cx="514.1" cy="457.8" r="3.7"/><circle cx="514.7" cy="456.5" r="3.7"/><circle cx="515.3" cy="457.8" r="3.7"/><circle cx="515.9" cy="456.5" r="3.7"/><circle cx="516.5" cy="456.5" r="3.7"/><circle cx="517.1" cy="455.2" r="3.7"/><circle cx="517.7" cy="455.2" r="3.7"/><circle cx="518.3" cy="453.9" r="3.7"/><circle cx="518.9" cy="456.5" r="3.7"/><circle cx="519.5" cy="456.5" r="3.7"/><circle cx="520.1" cy="460.4" r="3.7"/><circle cx="520.6" cy="460.4" r="3.7"/><circle cx="521.2" cy="464.2" r="3.7"/><circle cx="521.8" cy="462.9" r="3.7"/><circle cx="522.4" cy="464.2" r="3.7"/><circle cx="523.0" cy="460.4" r="3.7"/><circle cx="523.6" cy="461.6" r="3.7"/><circle cx="524.2" cy="460.4" r="3.7"/><circle cx="524.8" cy="460.4" r="3.7"/><circle cx="525.4" cy="457.8" r="3.7"/><circle cx="526.0" cy="459.1" r="3.7"/><circle cx="526.6" cy="457.8" r="3.7"/><circle cx="527.2" cy="457.8" r="3.7"/><circle cx="527.8" cy="457.8" r="3.7"/><circle cx="528.4" cy="459.1" r="3.7"/><circle cx="529.0" cy="457.8" r="3.7"/><circle cx="529.6" cy="459.1" r="3.7"/><circle cx="530.2" cy="457.8" r="3.7"/><circle cx="530.7" cy="459.1" r="3.7"/><circle cx="531.3" cy="456.5" r="3.7"/><circle cx="531.9" cy="455.2" r="3.7"/><circle cx="532.5" cy="453.9" r="3.7"/><circle cx="533.1" cy="451.4" r="3.7"/><circle cx="533.7" cy="447.5" r="3.7"/><circle cx="534.3" cy="447.5" r="3.7"/><circle cx="534.9" cy="447.5" r="3.7"/><circle cx="535.5" cy="450.1" r="3.7"/><circle cx="536.1" cy="451.4" r="3.7"/><circle cx="536.7" cy="452.7" r="3.7"/><circle cx="537.3" cy="452.7" r="3.7"/><circle cx="537.9" cy="457.8" r="3.7"/><circle cx="538.5" cy="455.2" r="3.7"/><circle cx="539.1" cy="460.4" r="3.7"/><circle cx="539.7" cy="456.5" r="3.7"/><circle cx="540.2" cy="457.8" r="3.7"/><circle cx="540.8" cy="453.9" r="3.7"/><circle cx="541.4" cy="455.2" r="3.7"/><circle cx="542.0" cy="451.4" r="3.7"/><circle cx="542.6" cy="452.7" r="3.7"/><circle cx="543.2" cy="448.8" r="3.7"/><circle cx="543.8" cy="448.8" r="3.7"/><circle cx="544.4" cy="448.8" r="3.7"/><circle cx="545.0" cy="450.1" r="3.7"/><circle cx="545.6" cy="448.8" r="3.7"/><circle cx="546.2" cy="451.4" r="3.7"/><circle cx="546.8" cy="451.4" r="3.7"/><circle cx="547.4" cy="452.7" r="3.7"/><circle cx="548.0" cy="453.9" r="3.7"/><circle cx="548.6" cy="455.2" r="3.7"/><circle cx="549.2" cy="455.2" r="3.7"/><circle cx="549.7" cy="457.8" r="3.7"/><circle cx="550.3" cy="459.1" r="3.7"/><circle cx="550.9" cy="459.1" r="3.7"/><circle cx="551.5" cy="455.2" r="3.7"/><circle cx="552.1" cy="453.9" r="3.7"/><circle cx="552.7" cy="453.9" r="3.7"/><circle cx="553.3" cy="456.5" r="3.7"/><circle cx="553.9" cy="452.7" r="3.7"/><circle cx="554.5" cy="452.7" r="3.7"/><circle cx="555.1" cy="452.7" r="3.7"/><circle cx="555.7" cy="450.1" r="3.7"/><circle cx="556.3" cy="448.8" r="3.7"/><circle cx="556.9" cy="450.1" r="3.7"/><circle cx="557.5" cy="446.2" r="3.7"/><circle cx="558.1" cy="451.4" r="3.7"/><circle cx="558.7" cy="447.5" r="3.7"/><circle cx="559.2" cy="452.7" r="3.7"/><circle cx="559.8" cy="450.1" r="3.7"/><circle cx="560.4" cy="452.7" r="3.7"/><circle cx="561.0" cy="453.9" r="3.7"/><circle cx="561.6" cy="456.5" r="3.7"/><circle cx="562.2" cy="453.9" r="3.7"/><circle cx="562.8" cy="457.8" r="3.7"/><circle cx="563.4" cy="456.5" r="3.7"/><circle cx="564.0" cy="459.1" r="3.7"/><circle cx="564.6" cy="459.1" r="3.7"/><circle cx="565.2" cy="461.6" r="3.7"/><circle cx="565.8" cy="457.8" r="3.7"/><circle cx="566.4" cy="459.1" r="3.7"/><circle cx="567.0" cy="455.2" r="3.7"/><circle cx="567.6" cy="456.5" r="3.7"/><circle cx="568.2" cy="453.9" r="3.7"/><circle cx="568.8" cy="453.9" r="3.7"/><circle cx="569.3" cy="452.7" r="3.7"/><circle cx="569.9" cy="455.2" r="3.7"/><circle cx="570.5" cy="451.4" r="3.7"/><circle cx="571.1" cy="453.9" r="3.7"/><circle cx="571.7" cy="453.9" r="3.7"/><circle cx="572.3" cy="456.5" r="3.7"/><circle cx="572.9" cy="456.5" r="3.7"/><circle cx="573.5" cy="459.1" r="3.7"/><circle cx="574.1" cy="456.5" r="3.7"/><circle cx="574.7" cy="459.1" r="3.7"/><circle cx="575.3" cy="457.8" r="3.7"/><circle cx="575.9" cy="457.8" r="3.7"/><circle cx="576.5" cy="455.2" r="3.7"/><circle cx="577.1" cy="456.5" r="3.7"/><circle cx="577.7" cy="456.5" r="3.7"/><circle cx="578.3" cy="453.9" r="3.7"/><circle cx="578.8" cy="455.2" r="3.7"/><circle cx="579.4" cy="455.2" r="3.7"/><circle cx="580.0" cy="456.5" r="3.7"/><circle cx="580.6" cy="455.2" r="3.7"/><circle cx="581.2" cy="452.7" r="3.7"/><circle cx="581.8" cy="451.4" r="3.7"/><circle cx="582.4" cy="452.7" r="3.7"/><circle cx="583.0" cy="455.2" r="3.7"/><circle cx="583.6" cy="453.9" r="3.7"/><circle cx="584.2" cy="456.5" r="3.7"/><circle cx="584.8" cy="455.2" r="3.7"/><circle cx="585.4" cy="457.8" r="3.7"/><circle cx="586.0" cy="456.5" r="3.7"/><circle cx="586.6" cy="459.1" r="3.7"/><circle cx="587.2" cy="457.8" r="3.7"/><circle cx="587.8" cy="460.4" r="3.7"/><circle cx="588.3" cy="459.1" r="3.7"/><circle cx="588.9" cy="459.1" r="3.7"/><circle cx="589.5" cy="460.4" r="3.7"/><circle cx="590.1" cy="461.6" r="3.7"/><circle cx="590.7" cy="457.8" r="3.7"/><circle cx="591.3" cy="459.1" r="3.7"/><circle cx="591.9" cy="457.8" r="3.7"/><circle cx="592.5" cy="457.8" r="3.7"/><circle cx="593.1" cy="456.5" r="3.7"/><circle cx="593.7" cy="456.5" r="3.7"/><circle cx="594.3" cy="455.2" r="3.7"/><circle cx="594.9" cy="455.2" r="3.7"/><circle cx="595.5" cy="453.9" r="3.7"/><circle cx="596.1" cy="451.4" r="3.7"/><circle cx="596.7" cy="452.7" r="3.7"/><circle cx="597.3" cy="455.2" r="3.7"/><circle cx="597.8" cy="452.7" r="3.7"/><circle cx="598.4" cy="453.9" r="3.7"/><circle cx="599.0" cy="452.7" r="3.7"/><circle cx="599.6" cy="455.2" r="3.7"/><circle cx="600.2" cy="451.4" r="3.7"/><circle cx="600.8" cy="451.4" r="3.7"/><circle cx="601.4" cy="451.4" r="3.7"/><circle cx="602.0" cy="453.9" r="3.7"/><circle cx="602.6" cy="452.7" r="3.7"/><circle cx="603.2" cy="451.4" r="3.7"/><circle cx="603.8" cy="448.8" r="3.7"/><circle cx="604.4" cy="450.1" r="3.7"/><circle cx="605.0" cy="446.2" r="3.7"/><circle cx="605.6" cy="447.5" r="3.7"/><circle cx="606.2" cy="446.2" r="3.7"/><circle cx="606.8" cy="446.2" r="3.7"/><circle cx="607.4" cy="444.9" r="3.7"/><circle cx="607.9" cy="447.5" r="3.7"/><circle cx="608.5" cy="444.9" r="3.7"/><circle cx="609.1" cy="446.2" r="3.7"/><circle cx="609.7" cy="444.9" r="3.7"/><circle cx="610.3" cy="446.2" r="3.7"/><circle cx="610.9" cy="444.9" r="3.7"/><circle cx="611.5" cy="447.5" r="3.7"/><circle cx="612.1" cy="444.9" r="3.7"/><circle cx="612.7" cy="447.5" r="3.7"/><circle cx="613.3" cy="444.9" r="3.7"/><circle cx="613.9" cy="446.2" r="3.7"/><circle cx="614.5" cy="443.7" r="3.7"/><circle cx="615.1" cy="444.9" r="3.7"/><circle cx="615.7" cy="442.4" r="3.7"/><circle cx="616.3" cy="443.7" r="3.7"/><circle cx="616.9" cy="442.4" r="3.7"/><circle cx="617.4" cy="444.9" r="3.7"/><circle cx="618.0" cy="443.7" r="3.7"/><circle cx="618.6" cy="444.9" r="3.7"/><circle cx="619.2" cy="443.7" r="3.7"/><circle cx="619.8" cy="447.5" r="3.7"/><circle cx="620.4" cy="446.2" r="3.7"/><circle cx="621.0" cy="447.5" r="3.7"/><circle cx="621.6" cy="446.2" r="3.7"/><circle cx="622.2" cy="448.8" r="3.7"/><circle cx="622.8" cy="447.5" r="3.7"/><circle cx="623.4" cy="450.1" r="3.7"/><circle cx="624.0" cy="447.5" r="3.7"/><circle cx="624.6" cy="450.1" r="3.7"/><circle cx="625.2" cy="447.5" r="3.7"/><circle cx="625.8" cy="447.5" r="3.7"/><circle cx="626.4" cy="446.2" r="3.7"/><circle cx="626.9" cy="447.5" r="3.7"/><circle cx="627.5" cy="444.9" r="3.7"/><circle cx="628.1" cy="446.2" r="3.7"/><circle cx="628.7" cy="444.9" r="3.7"/><circle cx="629.3" cy="446.2" r="3.7"/><circle cx="629.9" cy="444.9" r="3.7"/><circle cx="630.5" cy="450.1" r="3.7"/><circle cx="631.1" cy="448.8" r="3.7"/><circle cx="631.7" cy="450.1" r="3.7"/><circle cx="632.3" cy="450.1" r="3.7"/><circle cx="632.9" cy="452.7" r="3.7"/><circle cx="633.5" cy="451.4" r="3.7"/><circle cx="634.1" cy="452.7" r="3.7"/><circle cx="634.7" cy="451.4" r="3.7"/><circle cx="635.3" cy="452.7" r="3.7"/><circle cx="635.9" cy="451.4" r="3.7"/><circle cx="636.4" cy="452.7" r="3.7"/><circle cx="637.0" cy="450.1" r="3.7"/><circle cx="637.6" cy="451.4" r="3.7"/><circle cx="638.2" cy="448.8" r="3.7"/><circle cx="638.8" cy="451.4" r="3.7"/><circle cx="639.4" cy="448.8" r="3.7"/><circle cx="640.0" cy="450.1" r="3.7"/><circle cx="640.6" cy="448.8" r="3.7"/><circle cx="641.2" cy="452.7" r="3.7"/><circle cx="641.8" cy="450.1" r="3.7"/><circle cx="642.4" cy="453.9" r="3.7"/><circle cx="643.0" cy="451.4" r="3.7"/><circle cx="643.6" cy="455.2" r="3.7"/><circle cx="644.2" cy="453.9" r="3.7"/><circle cx="644.8" cy="456.5" r="3.7"/><circle cx="645.4" cy="453.9" r="3.7"/><circle cx="646.0" cy="455.2" r="3.7"/><circle cx="646.5" cy="453.9" r="3.7"/><circle cx="647.1" cy="456.5" r="3.7"/><circle cx="647.7" cy="457.8" r="3.7"/><circle cx="648.3" cy="456.5" r="3.7"/><circle cx="648.9" cy="455.2" r="3.7"/><circle cx="649.5" cy="457.8" r="3.7"/><circle cx="650.1" cy="455.2" r="3.7"/><circle cx="650.7" cy="455.2" r="3.7"/><circle cx="651.3" cy="457.8" r="3.7"/><circle cx="651.9" cy="457.8" r="3.7"/><circle cx="652.5" cy="455.2" r="3.7"/><circle cx="653.1" cy="456.5" r="3.7"/><circle cx="653.7" cy="453.9" r="3.7"/><circle cx="654.3" cy="456.5" r="3.7"/><circle cx="654.9" cy="453.9" r="3.7"/><circle cx="655.5" cy="455.2" r="3.7"/><circle cx="656.0" cy="456.5" r="3.7"/><circle cx="656.6" cy="455.2" r="3.7"/><circle cx="657.2" cy="453.9" r="3.7"/><circle cx="657.8" cy="455.2" r="3.7"/><circle cx="658.4" cy="452.7" r="3.7"/><circle cx="659.0" cy="453.9" r="3.7"/><circle cx="659.6" cy="453.9" r="3.7"/><circle cx="660.2" cy="453.9" r="3.7"/><circle cx="660.8" cy="452.7" r="3.7"/><circle cx="661.4" cy="452.7" r="3.7"/><circle cx="662.0" cy="451.4" r="3.7"/><circle cx="662.6" cy="452.7" r="3.7"/><circle cx="663.2" cy="451.4" r="3.7"/><circle cx="663.8" cy="451.4" r="3.7"/><circle cx="664.4" cy="450.1" r="3.7"/><circle cx="665.0" cy="452.7" r="3.7"/><circle cx="665.5" cy="450.1" r="3.7"/><circle cx="666.1" cy="452.7" r="3.7"/><circle cx="666.7" cy="453.9" r="3.7"/><circle cx="667.3" cy="453.9" r="3.7"/><circle cx="667.9" cy="452.7" r="3.7"/><circle cx="668.5" cy="453.9" r="3.7"/><circle cx="669.1" cy="453.9" r="3.7"/><circle cx="669.7" cy="455.2" r="3.7"/><circle cx="670.3" cy="453.9" r="3.7"/><circle cx="670.9" cy="456.5" r="3.7"/><circle cx="671.5" cy="453.9" r="3.7"/><circle cx="672.1" cy="455.2" r="3.7"/><circle cx="672.7" cy="451.4" r="3.7"/><circle cx="673.3" cy="453.9" r="3.7"/><circle cx="673.9" cy="452.7" r="3.7"/><circle cx="674.5" cy="452.7" r="3.7"/><circle cx="675.0" cy="451.4" r="3.7"/><circle cx="675.6" cy="452.7" r="3.7"/><circle cx="676.2" cy="448.8" r="3.7"/><circle cx="676.8" cy="451.4" r="3.7"/><circle cx="677.4" cy="451.4" r="3.7"/><circle cx="678.0" cy="451.4" r="3.7"/><circle cx="678.6" cy="450.1" r="3.7"/><circle cx="679.2" cy="448.8" r="3.7"/><circle cx="679.8" cy="451.4" r="3.7"/><circle cx="680.4" cy="451.4" r="3.7"/><circle cx="681.0" cy="450.1" r="3.7"/><circle cx="681.6" cy="451.4" r="3.7"/><circle cx="682.2" cy="450.1" r="3.7"/><circle cx="682.8" cy="448.8" r="3.7"/><circle cx="683.4" cy="450.1" r="3.7"/><circle cx="684.0" cy="451.4" r="3.7"/><circle cx="684.6" cy="450.1" r="3.7"/><circle cx="685.1" cy="452.7" r="3.7"/><circle cx="685.7" cy="452.7" r="3.7"/><circle cx="686.3" cy="453.9" r="3.7"/><circle cx="686.9" cy="455.2" r="3.7"/><circle cx="687.5" cy="455.2" r="3.7"/><circle cx="688.1" cy="453.9" r="3.7"/><circle cx="688.7" cy="456.5" r="3.7"/><circle cx="689.3" cy="455.2" r="3.7"/><circle cx="689.9" cy="456.5" r="3.7"/><circle cx="690.5" cy="457.8" r="3.7"/><circle cx="691.1" cy="460.4" r="3.7"/><circle cx="691.7" cy="457.8" r="3.7"/><circle cx="692.3" cy="461.6" r="3.7"/><circle cx="692.9" cy="459.1" r="3.7"/><circle cx="693.5" cy="461.6" r="3.7"/><circle cx="694.1" cy="460.4" r="3.7"/><circle cx="694.6" cy="461.6" r="3.7"/><circle cx="695.2" cy="459.1" r="3.7"/><circle cx="695.8" cy="461.6" r="3.7"/><circle cx="696.4" cy="459.1" r="3.7"/><circle cx="697.0" cy="461.6" r="3.7"/><circle cx="697.6" cy="460.4" r="3.7"/><circle cx="698.2" cy="461.6" r="3.7"/><circle cx="698.8" cy="460.4" r="3.7"/><circle cx="699.4" cy="461.6" r="3.7"/><circle cx="700.0" cy="460.4" r="3.7"/><circle cx="700.6" cy="464.2" r="3.7"/><circle cx="701.2" cy="462.9" r="3.7"/><circle cx="701.8" cy="462.9" r="3.7"/><circle cx="702.4" cy="462.9" r="3.7"/><circle cx="703.0" cy="464.2" r="3.7"/><circle cx="703.6" cy="465.5" r="3.7"/><circle cx="704.1" cy="465.5" r="3.7"/><circle cx="704.7" cy="464.2" r="3.7"/><circle cx="705.3" cy="464.2" r="3.7"/><circle cx="705.9" cy="461.6" r="3.7"/><circle cx="706.5" cy="464.2" r="3.7"/><circle cx="707.1" cy="460.4" r="3.7"/><circle cx="707.7" cy="462.9" r="3.7"/><circle cx="708.3" cy="460.4" r="3.7"/><circle cx="708.9" cy="461.6" r="3.7"/><circle cx="709.5" cy="460.4" r="3.7"/><circle cx="710.1" cy="460.4" r="3.7"/><circle cx="710.7" cy="457.8" r="3.7"/><circle cx="711.3" cy="457.8" r="3.7"/><circle cx="711.9" cy="455.2" r="3.7"/><circle cx="712.5" cy="456.5" r="3.7"/><circle cx="713.1" cy="452.7" r="3.7"/><circle cx="713.6" cy="453.9" r="3.7"/><circle cx="714.2" cy="452.7" r="3.7"/><circle cx="714.8" cy="452.7" r="3.7"/><circle cx="715.4" cy="451.4" r="3.7"/><circle cx="716.0" cy="455.2" r="3.7"/><circle cx="716.6" cy="451.4" r="3.7"/><circle cx="717.2" cy="455.2" r="3.7"/><circle cx="717.8" cy="452.7" r="3.7"/><circle cx="718.4" cy="455.2" r="3.7"/><circle cx="719.0" cy="452.7" r="3.7"/><circle cx="719.6" cy="453.9" r="3.7"/><circle cx="720.2" cy="451.4" r="3.7"/><circle cx="720.8" cy="452.7" r="3.7"/><circle cx="721.4" cy="451.4" r="3.7"/><circle cx="722.0" cy="452.7" r="3.7"/><circle cx="722.6" cy="450.1" r="3.7"/><circle cx="723.1" cy="451.4" r="3.7"/><circle cx="723.7" cy="448.8" r="3.7"/><circle cx="724.3" cy="451.4" r="3.7"/><circle cx="724.9" cy="448.8" r="3.7"/><circle cx="725.5" cy="450.1" r="3.7"/><circle cx="726.1" cy="448.8" r="3.7"/><circle cx="726.7" cy="448.8" r="3.7"/><circle cx="727.3" cy="447.5" r="3.7"/><circle cx="727.9" cy="450.1" r="3.7"/><circle cx="728.5" cy="448.8" r="3.7"/><circle cx="729.1" cy="450.1" r="3.7"/><circle cx="729.7" cy="451.4" r="3.7"/><circle cx="730.3" cy="455.2" r="3.7"/><circle cx="730.9" cy="453.9" r="3.7"/><circle cx="731.5" cy="456.5" r="3.7"/><circle cx="732.1" cy="456.5" r="3.7"/><circle cx="732.7" cy="460.4" r="3.7"/><circle cx="733.2" cy="457.8" r="3.7"/><circle cx="733.8" cy="461.6" r="3.7"/><circle cx="734.4" cy="460.4" r="3.7"/><circle cx="735.0" cy="462.9" r="3.7"/><circle cx="735.6" cy="462.9" r="3.7"/><circle cx="736.2" cy="464.2" r="3.7"/><circle cx="736.8" cy="464.2" r="3.7"/><circle cx="737.4" cy="465.5" r="3.7"/><circle cx="738.0" cy="466.8" r="3.7"/><circle cx="738.6" cy="465.5" r="3.7"/><circle cx="739.2" cy="462.9" r="3.7"/><circle cx="739.8" cy="465.5" r="3.7"/><circle cx="740.4" cy="462.9" r="3.7"/><circle cx="741.0" cy="462.9" r="3.7"/><circle cx="741.6" cy="461.6" r="3.7"/><circle cx="742.2" cy="462.9" r="3.7"/><circle cx="742.7" cy="459.1" r="3.7"/><circle cx="743.3" cy="460.4" r="3.7"/><circle cx="743.9" cy="459.1" r="3.7"/><circle cx="744.5" cy="459.1" r="3.7"/><circle cx="745.1" cy="459.1" r="3.7"/><circle cx="745.7" cy="457.8" r="3.7"/><circle cx="746.3" cy="456.5" r="3.7"/><circle cx="746.9" cy="460.4" r="3.7"/><circle cx="747.5" cy="460.4" r="3.7"/><circle cx="748.1" cy="462.9" r="3.7"/><circle cx="748.7" cy="462.9" r="3.7"/><circle cx="749.3" cy="465.5" r="3.7"/><circle cx="749.9" cy="462.9" r="3.7"/><circle cx="750.5" cy="464.2" r="3.7"/><circle cx="751.1" cy="461.6" r="3.7"/><circle cx="751.7" cy="461.6" r="3.7"/><circle cx="752.2" cy="459.1" r="3.7"/><circle cx="752.8" cy="459.1" r="3.7"/><circle cx="753.4" cy="456.5" r="3.7"/><circle cx="754.0" cy="459.1" r="3.7"/><circle cx="754.6" cy="455.2" r="3.7"/><circle cx="755.2" cy="456.5" r="3.7"/><circle cx="755.8" cy="453.9" r="3.7"/><circle cx="756.4" cy="455.2" r="3.7"/><circle cx="757.0" cy="452.7" r="3.7"/><circle cx="757.6" cy="453.9" r="3.7"/><circle cx="758.2" cy="451.4" r="3.7"/><circle cx="758.8" cy="453.9" r="3.7"/><circle cx="759.4" cy="450.1" r="3.7"/><circle cx="760.0" cy="451.4" r="3.7"/><circle cx="760.6" cy="448.8" r="3.7"/></g>

</svg>
</body></html>
